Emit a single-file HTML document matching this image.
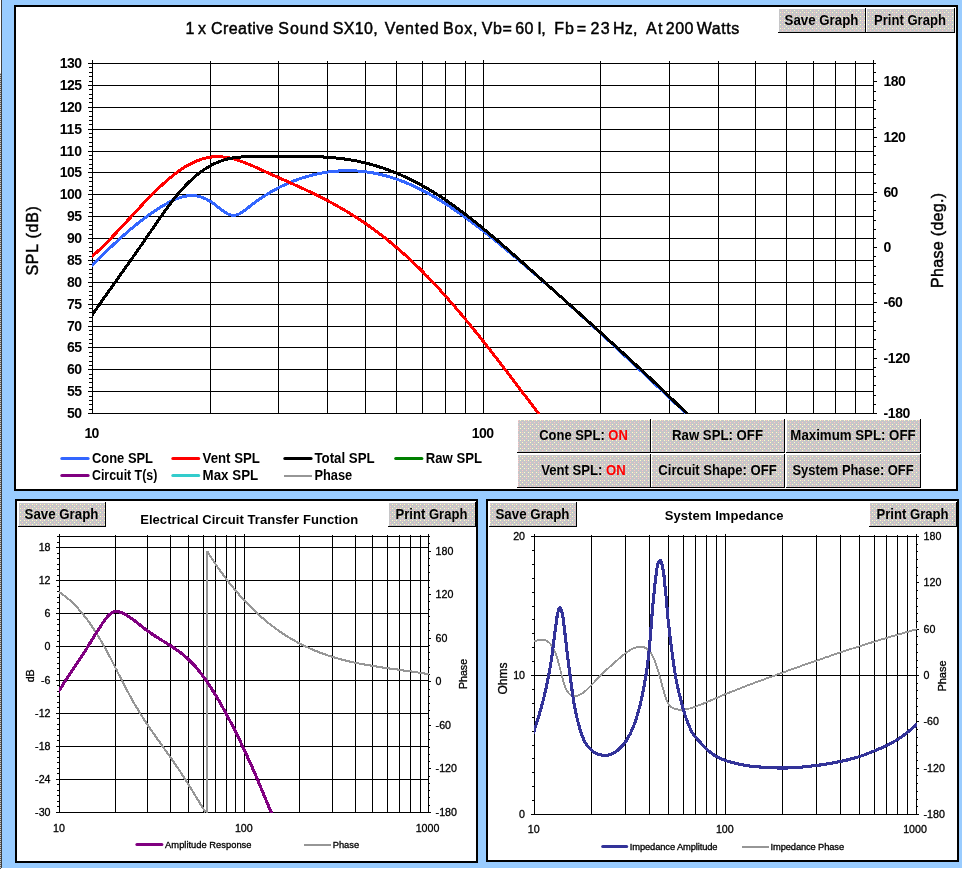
<!DOCTYPE html>
<html lang="en">
<head>
<meta charset="utf-8">
<title>1 x Creative Sound SX10, Vented Box - SPL, Transfer Function and Impedance</title>
<style>
html,body{margin:0;padding:0;}
body{width:963px;height:869px;position:relative;overflow:hidden;background:#99ccff;font-family:"Liberation Sans",Arial,sans-serif;}
svg.gfx{position:absolute;left:0;top:0;display:block;}
svg.gfx text{white-space:pre;}
button{position:absolute;box-sizing:border-box;margin:0;padding:0;border:0;border-radius:0;outline:0;-webkit-appearance:none;appearance:none;background:transparent;color:#000;
 font:700 14px/16px "Liberation Sans",Arial,sans-serif;text-align:center;white-space:nowrap;cursor:default;overflow:visible;}
button span{position:absolute;left:-20px;right:-19px;top:50%;margin-top:-9px;height:16px;display:block;transform-origin:50% 50%;}
button b{color:#ff0000;font-weight:700;}
</style>
</head>
<body>
<svg class="gfx" width="963" height="869" viewBox="0 0 963 869" font-family="'Liberation Sans', Arial, sans-serif">
<defs>
<pattern id="dither" width="8" height="8" patternUnits="userSpaceOnUse">
<rect width="8" height="8" fill="#c6c6c8"/>
<g fill="#ffffc4"><rect x="0" y="0" width="1" height="1"/><rect x="4" y="0" width="1" height="1"/><rect x="2" y="2" width="1" height="1"/><rect x="0" y="4" width="1" height="1"/><rect x="4" y="4" width="1" height="1"/></g>
<g fill="#ffc6c6"><rect x="2" y="0" width="1" height="1"/><rect x="6" y="2" width="1" height="1"/><rect x="6" y="4" width="1" height="1"/><rect x="2" y="6" width="1" height="1"/><rect x="6" y="6" width="1" height="1"/></g>
</pattern>
<pattern id="strip" width="1" height="2" patternUnits="userSpaceOnUse"><rect width="1" height="1" fill="#5a5a5a"/><rect y="1" width="1" height="1" fill="#c8c8c8"/></pattern>
<clipPath id="clipA"><rect x="92" y="63" width="782" height="351"/></clipPath>
<clipPath id="clipB"><rect x="59" y="536" width="370" height="277"/></clipPath>
<clipPath id="clipC"><rect x="534" y="536" width="383" height="279"/></clipPath>
</defs>
<g shape-rendering="crispEdges">
<rect x="0" y="0" width="1" height="73" fill="#ffffff"/>
<rect x="0" y="73" width="1" height="796" fill="url(#strip)"/>
<rect x="1" y="0" width="1" height="869" fill="#404040"/>
<rect x="1" y="868" width="962" height="1" fill="#ffffff"/>
<rect x="962" y="0" width="1" height="869" fill="#ffffff"/>
<rect x="14" y="5" width="944" height="486" fill="#000"/>
<rect x="16" y="7" width="940" height="482" fill="#fff"/>
<rect x="15" y="499" width="463" height="364" fill="#000"/>
<rect x="17" y="501" width="459" height="360" fill="#fff"/>
<rect x="486" y="499" width="473" height="363" fill="#000"/>
<rect x="488" y="501" width="469" height="359" fill="#fff"/>
<rect x="779" y="9" width="86" height="23" fill="url(#dither)"/>
<rect x="778" y="32" width="88" height="1" fill="#000"/>
<rect x="865" y="8" width="1" height="25" fill="#000"/>
<rect x="867" y="9" width="87" height="23" fill="url(#dither)"/>
<rect x="866" y="32" width="89" height="1" fill="#000"/>
<rect x="954" y="8" width="1" height="25" fill="#000"/>
<rect x="518" y="420" width="132" height="32" fill="url(#dither)"/>
<rect x="517" y="452" width="134" height="1" fill="#000"/>
<rect x="650" y="419" width="1" height="34" fill="#000"/>
<rect x="652" y="420" width="132" height="32" fill="url(#dither)"/>
<rect x="651" y="452" width="134" height="1" fill="#000"/>
<rect x="784" y="419" width="1" height="34" fill="#000"/>
<rect x="787" y="420" width="133" height="32" fill="url(#dither)"/>
<rect x="786" y="452" width="135" height="1" fill="#000"/>
<rect x="920" y="419" width="1" height="34" fill="#000"/>
<rect x="518" y="455" width="132" height="32" fill="url(#dither)"/>
<rect x="517" y="487" width="134" height="1" fill="#000"/>
<rect x="650" y="454" width="1" height="34" fill="#000"/>
<rect x="652" y="455" width="132" height="32" fill="url(#dither)"/>
<rect x="651" y="487" width="134" height="1" fill="#000"/>
<rect x="784" y="454" width="1" height="34" fill="#000"/>
<rect x="787" y="455" width="133" height="32" fill="url(#dither)"/>
<rect x="786" y="487" width="135" height="1" fill="#000"/>
<rect x="920" y="454" width="1" height="34" fill="#000"/>
<rect x="19" y="503" width="86" height="23" fill="url(#dither)"/>
<rect x="18" y="526" width="88" height="1" fill="#000"/>
<rect x="105" y="502" width="1" height="25" fill="#000"/>
<rect x="389" y="503" width="86" height="23" fill="url(#dither)"/>
<rect x="388" y="526" width="88" height="1" fill="#000"/>
<rect x="475" y="502" width="1" height="25" fill="#000"/>
<rect x="490" y="503" width="86" height="23" fill="url(#dither)"/>
<rect x="489" y="526" width="88" height="1" fill="#000"/>
<rect x="576" y="502" width="1" height="25" fill="#000"/>
<rect x="870" y="503" width="86" height="23" fill="url(#dither)"/>
<rect x="869" y="526" width="88" height="1" fill="#000"/>
<rect x="956" y="502" width="1" height="25" fill="#000"/>
<rect x="88" y="413" width="786" height="1" fill="#000"/>
<rect x="89" y="409" width="4" height="1" fill="#000"/>
<rect x="89" y="404" width="4" height="1" fill="#000"/>
<rect x="89" y="400" width="4" height="1" fill="#000"/>
<rect x="89" y="396" width="4" height="1" fill="#000"/>
<rect x="88" y="391" width="786" height="1" fill="#000"/>
<rect x="89" y="387" width="4" height="1" fill="#000"/>
<rect x="89" y="382" width="4" height="1" fill="#000"/>
<rect x="89" y="378" width="4" height="1" fill="#000"/>
<rect x="89" y="374" width="4" height="1" fill="#000"/>
<rect x="88" y="369" width="786" height="1" fill="#000"/>
<rect x="89" y="365" width="4" height="1" fill="#000"/>
<rect x="89" y="361" width="4" height="1" fill="#000"/>
<rect x="89" y="356" width="4" height="1" fill="#000"/>
<rect x="89" y="352" width="4" height="1" fill="#000"/>
<rect x="88" y="347" width="786" height="1" fill="#000"/>
<rect x="89" y="343" width="4" height="1" fill="#000"/>
<rect x="89" y="339" width="4" height="1" fill="#000"/>
<rect x="89" y="334" width="4" height="1" fill="#000"/>
<rect x="89" y="330" width="4" height="1" fill="#000"/>
<rect x="88" y="326" width="786" height="1" fill="#000"/>
<rect x="89" y="321" width="4" height="1" fill="#000"/>
<rect x="89" y="317" width="4" height="1" fill="#000"/>
<rect x="89" y="312" width="4" height="1" fill="#000"/>
<rect x="89" y="308" width="4" height="1" fill="#000"/>
<rect x="88" y="304" width="786" height="1" fill="#000"/>
<rect x="89" y="299" width="4" height="1" fill="#000"/>
<rect x="89" y="295" width="4" height="1" fill="#000"/>
<rect x="89" y="291" width="4" height="1" fill="#000"/>
<rect x="89" y="286" width="4" height="1" fill="#000"/>
<rect x="88" y="282" width="786" height="1" fill="#000"/>
<rect x="89" y="277" width="4" height="1" fill="#000"/>
<rect x="89" y="273" width="4" height="1" fill="#000"/>
<rect x="89" y="269" width="4" height="1" fill="#000"/>
<rect x="89" y="264" width="4" height="1" fill="#000"/>
<rect x="88" y="260" width="786" height="1" fill="#000"/>
<rect x="89" y="256" width="4" height="1" fill="#000"/>
<rect x="89" y="251" width="4" height="1" fill="#000"/>
<rect x="89" y="247" width="4" height="1" fill="#000"/>
<rect x="89" y="242" width="4" height="1" fill="#000"/>
<rect x="88" y="238" width="786" height="1" fill="#000"/>
<rect x="89" y="234" width="4" height="1" fill="#000"/>
<rect x="89" y="229" width="4" height="1" fill="#000"/>
<rect x="89" y="225" width="4" height="1" fill="#000"/>
<rect x="89" y="221" width="4" height="1" fill="#000"/>
<rect x="88" y="216" width="786" height="1" fill="#000"/>
<rect x="89" y="212" width="4" height="1" fill="#000"/>
<rect x="89" y="207" width="4" height="1" fill="#000"/>
<rect x="89" y="203" width="4" height="1" fill="#000"/>
<rect x="89" y="199" width="4" height="1" fill="#000"/>
<rect x="88" y="194" width="786" height="1" fill="#000"/>
<rect x="89" y="190" width="4" height="1" fill="#000"/>
<rect x="89" y="186" width="4" height="1" fill="#000"/>
<rect x="89" y="181" width="4" height="1" fill="#000"/>
<rect x="89" y="177" width="4" height="1" fill="#000"/>
<rect x="88" y="172" width="786" height="1" fill="#000"/>
<rect x="89" y="168" width="4" height="1" fill="#000"/>
<rect x="89" y="164" width="4" height="1" fill="#000"/>
<rect x="89" y="159" width="4" height="1" fill="#000"/>
<rect x="89" y="155" width="4" height="1" fill="#000"/>
<rect x="88" y="151" width="786" height="1" fill="#000"/>
<rect x="89" y="146" width="4" height="1" fill="#000"/>
<rect x="89" y="142" width="4" height="1" fill="#000"/>
<rect x="89" y="137" width="4" height="1" fill="#000"/>
<rect x="89" y="133" width="4" height="1" fill="#000"/>
<rect x="88" y="129" width="786" height="1" fill="#000"/>
<rect x="89" y="124" width="4" height="1" fill="#000"/>
<rect x="89" y="120" width="4" height="1" fill="#000"/>
<rect x="89" y="116" width="4" height="1" fill="#000"/>
<rect x="89" y="111" width="4" height="1" fill="#000"/>
<rect x="88" y="107" width="786" height="1" fill="#000"/>
<rect x="89" y="102" width="4" height="1" fill="#000"/>
<rect x="89" y="98" width="4" height="1" fill="#000"/>
<rect x="89" y="94" width="4" height="1" fill="#000"/>
<rect x="89" y="89" width="4" height="1" fill="#000"/>
<rect x="88" y="85" width="786" height="1" fill="#000"/>
<rect x="89" y="81" width="4" height="1" fill="#000"/>
<rect x="89" y="76" width="4" height="1" fill="#000"/>
<rect x="89" y="72" width="4" height="1" fill="#000"/>
<rect x="89" y="67" width="4" height="1" fill="#000"/>
<rect x="88" y="63" width="786" height="1" fill="#000"/>
<rect x="92" y="60" width="1" height="354" fill="#000"/>
<rect x="210" y="61" width="1" height="353" fill="#000"/>
<rect x="278" y="61" width="1" height="353" fill="#000"/>
<rect x="327" y="61" width="1" height="353" fill="#000"/>
<rect x="365" y="61" width="1" height="353" fill="#000"/>
<rect x="396" y="61" width="1" height="353" fill="#000"/>
<rect x="422" y="61" width="1" height="353" fill="#000"/>
<rect x="445" y="61" width="1" height="353" fill="#000"/>
<rect x="465" y="61" width="1" height="353" fill="#000"/>
<rect x="483" y="60" width="1" height="354" fill="#000"/>
<rect x="600" y="61" width="1" height="353" fill="#000"/>
<rect x="669" y="61" width="1" height="353" fill="#000"/>
<rect x="718" y="61" width="1" height="353" fill="#000"/>
<rect x="755" y="61" width="1" height="353" fill="#000"/>
<rect x="786" y="61" width="1" height="353" fill="#000"/>
<rect x="813" y="61" width="1" height="353" fill="#000"/>
<rect x="835" y="61" width="1" height="353" fill="#000"/>
<rect x="855" y="61" width="1" height="353" fill="#000"/>
<rect x="873" y="60" width="1" height="354" fill="#000"/>
<rect x="873" y="413" width="4" height="1" fill="#000"/>
<rect x="873" y="404" width="3" height="1" fill="#000"/>
<rect x="873" y="395" width="3" height="1" fill="#000"/>
<rect x="873" y="385" width="3" height="1" fill="#000"/>
<rect x="873" y="376" width="3" height="1" fill="#000"/>
<rect x="873" y="367" width="3" height="1" fill="#000"/>
<rect x="873" y="358" width="4" height="1" fill="#000"/>
<rect x="873" y="349" width="3" height="1" fill="#000"/>
<rect x="873" y="339" width="3" height="1" fill="#000"/>
<rect x="873" y="330" width="3" height="1" fill="#000"/>
<rect x="873" y="321" width="3" height="1" fill="#000"/>
<rect x="873" y="312" width="3" height="1" fill="#000"/>
<rect x="873" y="302" width="4" height="1" fill="#000"/>
<rect x="873" y="293" width="3" height="1" fill="#000"/>
<rect x="873" y="284" width="3" height="1" fill="#000"/>
<rect x="873" y="275" width="3" height="1" fill="#000"/>
<rect x="873" y="266" width="3" height="1" fill="#000"/>
<rect x="873" y="256" width="3" height="1" fill="#000"/>
<rect x="873" y="247" width="4" height="1" fill="#000"/>
<rect x="873" y="238" width="3" height="1" fill="#000"/>
<rect x="873" y="229" width="3" height="1" fill="#000"/>
<rect x="873" y="220" width="3" height="1" fill="#000"/>
<rect x="873" y="210" width="3" height="1" fill="#000"/>
<rect x="873" y="201" width="3" height="1" fill="#000"/>
<rect x="873" y="192" width="4" height="1" fill="#000"/>
<rect x="873" y="183" width="3" height="1" fill="#000"/>
<rect x="873" y="174" width="3" height="1" fill="#000"/>
<rect x="873" y="164" width="3" height="1" fill="#000"/>
<rect x="873" y="155" width="3" height="1" fill="#000"/>
<rect x="873" y="146" width="3" height="1" fill="#000"/>
<rect x="873" y="137" width="4" height="1" fill="#000"/>
<rect x="873" y="127" width="3" height="1" fill="#000"/>
<rect x="873" y="118" width="3" height="1" fill="#000"/>
<rect x="873" y="109" width="3" height="1" fill="#000"/>
<rect x="873" y="100" width="3" height="1" fill="#000"/>
<rect x="873" y="91" width="3" height="1" fill="#000"/>
<rect x="873" y="81" width="4" height="1" fill="#000"/>
<rect x="873" y="72" width="3" height="1" fill="#000"/>
<rect x="873" y="63" width="3" height="1" fill="#000"/>
<rect x="56" y="812" width="373" height="1" fill="#000"/>
<rect x="57" y="806" width="3" height="1" fill="#000"/>
<rect x="57" y="801" width="3" height="1" fill="#000"/>
<rect x="57" y="795" width="3" height="1" fill="#000"/>
<rect x="57" y="790" width="3" height="1" fill="#000"/>
<rect x="57" y="784" width="3" height="1" fill="#000"/>
<rect x="56" y="779" width="373" height="1" fill="#000"/>
<rect x="57" y="773" width="3" height="1" fill="#000"/>
<rect x="57" y="768" width="3" height="1" fill="#000"/>
<rect x="57" y="762" width="3" height="1" fill="#000"/>
<rect x="57" y="757" width="3" height="1" fill="#000"/>
<rect x="57" y="751" width="3" height="1" fill="#000"/>
<rect x="56" y="746" width="373" height="1" fill="#000"/>
<rect x="57" y="740" width="3" height="1" fill="#000"/>
<rect x="57" y="735" width="3" height="1" fill="#000"/>
<rect x="57" y="729" width="3" height="1" fill="#000"/>
<rect x="57" y="724" width="3" height="1" fill="#000"/>
<rect x="57" y="718" width="3" height="1" fill="#000"/>
<rect x="56" y="713" width="373" height="1" fill="#000"/>
<rect x="57" y="707" width="3" height="1" fill="#000"/>
<rect x="57" y="702" width="3" height="1" fill="#000"/>
<rect x="57" y="696" width="3" height="1" fill="#000"/>
<rect x="57" y="691" width="3" height="1" fill="#000"/>
<rect x="57" y="685" width="3" height="1" fill="#000"/>
<rect x="56" y="680" width="373" height="1" fill="#000"/>
<rect x="57" y="674" width="3" height="1" fill="#000"/>
<rect x="57" y="668" width="3" height="1" fill="#000"/>
<rect x="57" y="663" width="3" height="1" fill="#000"/>
<rect x="57" y="657" width="3" height="1" fill="#000"/>
<rect x="57" y="652" width="3" height="1" fill="#000"/>
<rect x="56" y="646" width="373" height="1" fill="#000"/>
<rect x="57" y="641" width="3" height="1" fill="#000"/>
<rect x="57" y="635" width="3" height="1" fill="#000"/>
<rect x="57" y="630" width="3" height="1" fill="#000"/>
<rect x="57" y="624" width="3" height="1" fill="#000"/>
<rect x="57" y="619" width="3" height="1" fill="#000"/>
<rect x="56" y="613" width="373" height="1" fill="#000"/>
<rect x="57" y="608" width="3" height="1" fill="#000"/>
<rect x="57" y="602" width="3" height="1" fill="#000"/>
<rect x="57" y="597" width="3" height="1" fill="#000"/>
<rect x="57" y="591" width="3" height="1" fill="#000"/>
<rect x="57" y="586" width="3" height="1" fill="#000"/>
<rect x="56" y="580" width="373" height="1" fill="#000"/>
<rect x="57" y="575" width="3" height="1" fill="#000"/>
<rect x="57" y="569" width="3" height="1" fill="#000"/>
<rect x="57" y="564" width="3" height="1" fill="#000"/>
<rect x="57" y="558" width="3" height="1" fill="#000"/>
<rect x="57" y="553" width="3" height="1" fill="#000"/>
<rect x="56" y="547" width="373" height="1" fill="#000"/>
<rect x="57" y="542" width="3" height="1" fill="#000"/>
<rect x="57" y="536" width="372" height="1" fill="#000"/>
<rect x="59" y="534" width="1" height="279" fill="#000"/>
<rect x="115" y="535" width="1" height="278" fill="#000"/>
<rect x="147" y="535" width="1" height="278" fill="#000"/>
<rect x="170" y="535" width="1" height="278" fill="#000"/>
<rect x="188" y="535" width="1" height="278" fill="#000"/>
<rect x="203" y="535" width="1" height="278" fill="#000"/>
<rect x="215" y="535" width="1" height="278" fill="#000"/>
<rect x="226" y="535" width="1" height="278" fill="#000"/>
<rect x="235" y="535" width="1" height="278" fill="#000"/>
<rect x="244" y="534" width="1" height="279" fill="#000"/>
<rect x="299" y="535" width="1" height="278" fill="#000"/>
<rect x="332" y="535" width="1" height="278" fill="#000"/>
<rect x="355" y="535" width="1" height="278" fill="#000"/>
<rect x="372" y="535" width="1" height="278" fill="#000"/>
<rect x="387" y="535" width="1" height="278" fill="#000"/>
<rect x="399" y="535" width="1" height="278" fill="#000"/>
<rect x="410" y="535" width="1" height="278" fill="#000"/>
<rect x="420" y="535" width="1" height="278" fill="#000"/>
<rect x="428" y="534" width="1" height="279" fill="#000"/>
<rect x="428" y="812" width="3" height="1" fill="#000"/>
<rect x="428" y="805" width="2" height="1" fill="#000"/>
<rect x="428" y="797" width="2" height="1" fill="#000"/>
<rect x="428" y="790" width="2" height="1" fill="#000"/>
<rect x="428" y="783" width="2" height="1" fill="#000"/>
<rect x="428" y="776" width="2" height="1" fill="#000"/>
<rect x="428" y="768" width="3" height="1" fill="#000"/>
<rect x="428" y="761" width="2" height="1" fill="#000"/>
<rect x="428" y="754" width="2" height="1" fill="#000"/>
<rect x="428" y="747" width="2" height="1" fill="#000"/>
<rect x="428" y="739" width="2" height="1" fill="#000"/>
<rect x="428" y="732" width="2" height="1" fill="#000"/>
<rect x="428" y="725" width="3" height="1" fill="#000"/>
<rect x="428" y="718" width="2" height="1" fill="#000"/>
<rect x="428" y="710" width="2" height="1" fill="#000"/>
<rect x="428" y="703" width="2" height="1" fill="#000"/>
<rect x="428" y="696" width="2" height="1" fill="#000"/>
<rect x="428" y="689" width="2" height="1" fill="#000"/>
<rect x="428" y="681" width="3" height="1" fill="#000"/>
<rect x="428" y="674" width="2" height="1" fill="#000"/>
<rect x="428" y="667" width="2" height="1" fill="#000"/>
<rect x="428" y="659" width="2" height="1" fill="#000"/>
<rect x="428" y="652" width="2" height="1" fill="#000"/>
<rect x="428" y="645" width="2" height="1" fill="#000"/>
<rect x="428" y="638" width="3" height="1" fill="#000"/>
<rect x="428" y="630" width="2" height="1" fill="#000"/>
<rect x="428" y="623" width="2" height="1" fill="#000"/>
<rect x="428" y="616" width="2" height="1" fill="#000"/>
<rect x="428" y="609" width="2" height="1" fill="#000"/>
<rect x="428" y="601" width="2" height="1" fill="#000"/>
<rect x="428" y="594" width="3" height="1" fill="#000"/>
<rect x="428" y="587" width="2" height="1" fill="#000"/>
<rect x="428" y="580" width="2" height="1" fill="#000"/>
<rect x="428" y="572" width="2" height="1" fill="#000"/>
<rect x="428" y="565" width="2" height="1" fill="#000"/>
<rect x="428" y="558" width="2" height="1" fill="#000"/>
<rect x="428" y="551" width="3" height="1" fill="#000"/>
<rect x="428" y="543" width="2" height="1" fill="#000"/>
<rect x="428" y="536" width="2" height="1" fill="#000"/>
<rect x="531" y="814" width="386" height="1" fill="#000"/>
<rect x="532" y="800" width="3" height="1" fill="#000"/>
<rect x="532" y="786" width="3" height="1" fill="#000"/>
<rect x="532" y="772" width="3" height="1" fill="#000"/>
<rect x="532" y="758" width="3" height="1" fill="#000"/>
<rect x="532" y="745" width="3" height="1" fill="#000"/>
<rect x="532" y="731" width="3" height="1" fill="#000"/>
<rect x="532" y="717" width="3" height="1" fill="#000"/>
<rect x="532" y="703" width="3" height="1" fill="#000"/>
<rect x="532" y="689" width="3" height="1" fill="#000"/>
<rect x="531" y="675" width="386" height="1" fill="#000"/>
<rect x="532" y="661" width="3" height="1" fill="#000"/>
<rect x="532" y="647" width="3" height="1" fill="#000"/>
<rect x="532" y="633" width="3" height="1" fill="#000"/>
<rect x="532" y="619" width="3" height="1" fill="#000"/>
<rect x="532" y="606" width="3" height="1" fill="#000"/>
<rect x="532" y="592" width="3" height="1" fill="#000"/>
<rect x="532" y="578" width="3" height="1" fill="#000"/>
<rect x="532" y="564" width="3" height="1" fill="#000"/>
<rect x="532" y="550" width="3" height="1" fill="#000"/>
<rect x="531" y="536" width="386" height="1" fill="#000"/>
<rect x="534" y="534" width="1" height="281" fill="#000"/>
<rect x="591" y="535" width="1" height="280" fill="#000"/>
<rect x="625" y="535" width="1" height="280" fill="#000"/>
<rect x="649" y="535" width="1" height="280" fill="#000"/>
<rect x="668" y="535" width="1" height="280" fill="#000"/>
<rect x="683" y="535" width="1" height="280" fill="#000"/>
<rect x="695" y="535" width="1" height="280" fill="#000"/>
<rect x="706" y="535" width="1" height="280" fill="#000"/>
<rect x="716" y="535" width="1" height="280" fill="#000"/>
<rect x="725" y="534" width="1" height="281" fill="#000"/>
<rect x="782" y="535" width="1" height="280" fill="#000"/>
<rect x="816" y="535" width="1" height="280" fill="#000"/>
<rect x="840" y="535" width="1" height="280" fill="#000"/>
<rect x="859" y="535" width="1" height="280" fill="#000"/>
<rect x="874" y="535" width="1" height="280" fill="#000"/>
<rect x="886" y="535" width="1" height="280" fill="#000"/>
<rect x="897" y="535" width="1" height="280" fill="#000"/>
<rect x="907" y="535" width="1" height="280" fill="#000"/>
<rect x="916" y="534" width="1" height="281" fill="#000"/>
<rect x="916" y="814" width="3" height="1" fill="#000"/>
<rect x="916" y="806" width="2" height="1" fill="#000"/>
<rect x="916" y="799" width="2" height="1" fill="#000"/>
<rect x="916" y="791" width="2" height="1" fill="#000"/>
<rect x="916" y="783" width="2" height="1" fill="#000"/>
<rect x="916" y="775" width="2" height="1" fill="#000"/>
<rect x="916" y="768" width="3" height="1" fill="#000"/>
<rect x="916" y="760" width="2" height="1" fill="#000"/>
<rect x="916" y="752" width="2" height="1" fill="#000"/>
<rect x="916" y="745" width="2" height="1" fill="#000"/>
<rect x="916" y="737" width="2" height="1" fill="#000"/>
<rect x="916" y="729" width="2" height="1" fill="#000"/>
<rect x="916" y="721" width="3" height="1" fill="#000"/>
<rect x="916" y="714" width="2" height="1" fill="#000"/>
<rect x="916" y="706" width="2" height="1" fill="#000"/>
<rect x="916" y="698" width="2" height="1" fill="#000"/>
<rect x="916" y="690" width="2" height="1" fill="#000"/>
<rect x="916" y="683" width="2" height="1" fill="#000"/>
<rect x="916" y="675" width="3" height="1" fill="#000"/>
<rect x="916" y="667" width="2" height="1" fill="#000"/>
<rect x="916" y="660" width="2" height="1" fill="#000"/>
<rect x="916" y="652" width="2" height="1" fill="#000"/>
<rect x="916" y="644" width="2" height="1" fill="#000"/>
<rect x="916" y="636" width="2" height="1" fill="#000"/>
<rect x="916" y="629" width="3" height="1" fill="#000"/>
<rect x="916" y="621" width="2" height="1" fill="#000"/>
<rect x="916" y="613" width="2" height="1" fill="#000"/>
<rect x="916" y="606" width="2" height="1" fill="#000"/>
<rect x="916" y="598" width="2" height="1" fill="#000"/>
<rect x="916" y="590" width="2" height="1" fill="#000"/>
<rect x="916" y="582" width="3" height="1" fill="#000"/>
<rect x="916" y="575" width="2" height="1" fill="#000"/>
<rect x="916" y="567" width="2" height="1" fill="#000"/>
<rect x="916" y="559" width="2" height="1" fill="#000"/>
<rect x="916" y="551" width="2" height="1" fill="#000"/>
<rect x="916" y="544" width="2" height="1" fill="#000"/>
<rect x="916" y="536" width="3" height="1" fill="#000"/>
</g>
<g shape-rendering="crispEdges">
<path d="M90.8,269.0 L91.8,267.9 L92.9,266.9 L93.9,265.8 L95.0,264.7 L96.0,263.7 L97.1,262.6 L98.2,261.5 L99.2,260.5 L100.3,259.4 L101.4,258.4 L102.4,257.3 L103.5,256.2 L104.6,255.2 L105.6,254.1 L106.7,253.1 L107.8,252.0 L108.9,251.0 L110.0,250.0 L111.0,248.9 L112.1,247.9 L113.2,246.9 L114.3,245.8 L115.4,244.8 L116.5,243.8 L117.6,242.8 L118.7,241.8 L119.8,240.7 L120.9,239.7 L122.0,238.7 L123.2,237.7 L124.3,236.7 L125.4,235.7 L126.5,234.8 L127.6,233.8 L128.8,232.8 L129.9,231.8 L131.1,230.8 L132.2,229.9 L133.4,228.9 L134.5,228.0 L135.7,227.0 L136.8,226.1 L138.0,225.1 L139.2,224.2 L140.3,223.3 L141.5,222.3 L142.7,221.4 L143.9,220.5 L145.1,219.6 L146.3,218.7 L147.5,217.8 L148.7,217.0 L149.9,216.1 L151.1,215.2 L152.4,214.4 L153.6,213.5 L154.8,212.7 L156.1,211.9 L157.3,211.0 L158.6,210.2 L159.8,209.4 L161.1,208.6 L162.4,207.9 L163.6,207.1 L164.9,206.3 L166.2,205.6 L167.5,204.9 L168.8,204.2 L170.1,203.5 L171.5,202.8 L172.8,202.1 L174.1,201.5 L175.5,200.9 L176.8,200.3 L178.2,199.8 L179.6,199.3 L180.9,198.8 L182.3,198.4 L183.7,198.0 L185.2,197.7 L186.6,197.5 L188.0,197.3 L189.4,197.1 L190.9,197.0 L192.3,197.0 L193.7,197.1 L195.1,197.2 L196.6,197.5 L198.0,197.7 L199.3,198.1 L200.7,198.5 L202.1,199.0 L203.4,199.5 L204.7,200.1 L206.1,200.7 L207.3,201.4 L208.6,202.1 L209.8,202.9 L211.1,203.7 L212.3,204.5 L213.4,205.4 L214.6,206.3 L215.8,207.2 L217.0,208.2 L218.2,209.1 L219.3,210.0 L220.6,211.0 L221.8,211.9 L223.1,212.8 L224.4,213.6 L225.7,214.4 L227.1,215.2 L228.6,215.8 L230.2,216.4 L231.8,216.7 L233.5,216.9 L235.2,216.8 L236.9,216.4 L238.5,215.9 L240.0,215.2 L241.4,214.5 L242.7,213.6 L244.0,212.8 L245.3,211.8 L246.5,210.9 L247.7,210.0 L248.9,209.0 L250.0,208.1 L251.2,207.2 L252.4,206.3 L253.6,205.3 L254.8,204.4 L256.0,203.6 L257.2,202.7 L258.4,201.8 L259.6,200.9 L260.8,200.1 L262.0,199.3 L263.3,198.4 L264.5,197.6 L265.8,196.8 L267.1,196.0 L268.3,195.2 L269.6,194.5 L270.9,193.7 L272.2,192.9 L273.5,192.2 L274.8,191.5 L276.1,190.8 L277.4,190.1 L278.7,189.4 L280.0,188.7 L281.4,188.0 L282.7,187.4 L284.1,186.7 L285.4,186.1 L286.8,185.5 L288.1,184.9 L289.5,184.3 L290.9,183.7 L292.2,183.2 L293.6,182.6 L295.0,182.1 L296.4,181.6 L297.8,181.1 L299.2,180.6 L300.6,180.1 L302.0,179.6 L303.5,179.2 L304.9,178.7 L306.3,178.3 L307.7,177.9 L309.2,177.5 L310.6,177.1 L312.1,176.7 L313.5,176.3 L315.0,176.0 L316.4,175.7 L317.9,175.3 L319.3,175.0 L320.8,174.8 L322.2,174.5 L323.7,174.2 L325.2,174.0 L326.7,173.8 L328.1,173.5 L329.6,173.3 L331.1,173.2 L332.6,173.0 L334.0,172.8 L335.5,172.7 L337.0,172.6 L338.5,172.5 L340.0,172.4 L341.5,172.3 L343.0,172.3 L344.4,172.2 L345.9,172.2 L347.4,172.2 L348.9,172.2 L350.4,172.2 L351.9,172.2 L353.4,172.3 L354.9,172.4 L356.3,172.4 L357.8,172.5 L359.3,172.7 L360.8,172.8 L362.3,172.9 L363.8,173.1 L365.2,173.3 L366.7,173.5 L368.2,173.7 L369.7,173.9 L371.1,174.1 L372.6,174.4 L374.1,174.7 L375.5,174.9 L377.0,175.2 L378.4,175.6 L379.9,175.9 L381.3,176.2 L382.8,176.6 L384.2,176.9 L385.7,177.3 L387.1,177.7 L388.5,178.1 L390.0,178.6 L391.4,179.0 L392.8,179.5 L394.2,179.9 L395.6,180.4 L397.0,180.9 L398.4,181.4 L399.8,181.9 L401.2,182.4 L402.6,183.0 L404.0,183.5 L405.4,184.1 L406.8,184.7 L408.2,185.2 L409.5,185.8 L410.9,186.4 L412.2,187.1 L413.6,187.7 L415.0,188.3 L416.3,189.0 L417.6,189.6 L419.0,190.3 L420.3,191.0 L421.6,191.6 L423.0,192.3 L424.3,193.0 L425.6,193.7 L426.9,194.5 L428.2,195.2 L429.5,195.9 L430.8,196.6 L432.1,197.4 L433.4,198.1 L434.7,198.9 L436.0,199.7 L437.3,200.4 L438.6,201.2 L439.8,202.0 L441.1,202.8 L442.4,203.6 L443.7,204.4 L444.9,205.2 L446.2,206.0 L447.4,206.8 L448.7,207.6 L449.9,208.5 L451.2,209.3 L452.4,210.1 L453.7,211.0 L454.9,211.8 L456.1,212.7 L457.4,213.5 L458.6,214.4 L459.8,215.3 L461.0,216.1 L462.3,217.0 L463.5,217.9 L464.7,218.8 L465.9,219.6 L467.1,220.5 L468.3,221.4 L469.5,222.3 L470.7,223.2 L471.9,224.1 L473.1,225.0 L474.3,225.9 L475.5,226.8 L476.7,227.7 L477.9,228.6 L479.1,229.6 L480.3,230.5 L481.5,231.4 L482.6,232.3 L483.8,233.3 L485.0,234.2 L486.2,235.1 L487.3,236.1 L488.5,237.0 L489.7,237.9 L490.9,238.9 L492.0,239.8 L493.2,240.8 L494.4,241.7 L495.5,242.7 L496.7,243.6 L497.9,244.6 L499.0,245.5 L500.2,246.5 L501.3,247.4 L502.5,248.4 L503.6,249.3 L504.8,250.3 L506.0,251.3 L507.1,252.2 L508.3,253.2 L509.4,254.2 L510.6,255.1 L511.7,256.1 L512.9,257.1 L514.0,258.0 L515.2,259.0 L516.3,260.0 L517.5,260.9 L518.6,261.9 L519.7,262.9 L520.9,263.9 L522.0,264.8 L523.2,265.8 L524.3,266.8 L525.5,267.8 L526.6,268.8 L527.7,269.7 L528.9,270.7 L530.0,271.7 L531.1,272.7 L532.3,273.7 L533.4,274.7 L534.5,275.6 L535.7,276.6 L536.8,277.6 L537.9,278.6 L539.1,279.6 L540.2,280.6 L541.3,281.6 L542.5,282.6 L543.6,283.6 L544.7,284.6 L545.9,285.6 L547.0,286.5 L548.1,287.5 L549.2,288.5 L550.4,289.5 L551.5,290.5 L552.6,291.5 L553.7,292.5 L554.8,293.5 L556.0,294.5 L557.1,295.5 L558.2,296.5 L559.3,297.5 L560.5,298.5 L561.6,299.5 L562.7,300.6 L563.8,301.6 L564.9,302.6 L566.0,303.6 L567.2,304.6 L568.3,305.6 L569.4,306.6 L570.5,307.6 L571.6,308.6 L572.7,309.6 L573.8,310.6 L575.0,311.6 L576.1,312.7 L577.2,313.7 L578.3,314.7 L579.4,315.7 L580.5,316.7 L581.6,317.7 L582.7,318.7 L583.8,319.8 L585.0,320.8 L586.1,321.8 L587.2,322.8 L588.3,323.8 L589.4,324.8 L590.5,325.9 L591.6,326.9 L592.7,327.9 L593.8,328.9 L594.9,329.9 L596.0,330.9 L597.1,332.0 L598.2,333.0 L599.3,334.0 L600.4,335.0 L601.5,336.1 L602.6,337.1 L603.7,338.1 L604.8,339.1 L605.9,340.1 L607.0,341.2 L608.2,342.2 L609.3,343.2 L610.4,344.2 L611.5,345.3 L612.6,346.3 L613.7,347.3 L614.8,348.3 L615.9,349.4 L617.0,350.4 L618.0,351.4 L619.1,352.5 L620.2,353.5 L621.3,354.5 L622.4,355.5 L623.5,356.6 L624.6,357.6 L625.7,358.6 L626.8,359.6 L627.9,360.7 L629.0,361.7 L630.1,362.7 L631.2,363.8 L632.3,364.8 L633.4,365.8 L634.5,366.9 L635.6,367.9 L636.7,368.9 L637.8,369.9 L638.9,371.0 L640.0,372.0 L641.1,373.0 L642.2,374.1 L643.3,375.1 L644.4,376.1 L645.5,377.2 L646.6,378.2 L647.6,379.2 L648.7,380.3 L649.8,381.3 L650.9,382.3 L652.0,383.4 L653.1,384.4 L654.2,385.4 L655.3,386.5 L656.4,387.5 L657.5,388.5 L658.6,389.6 L659.7,390.6 L660.8,391.6 L661.9,392.7 L663.0,393.7 L664.1,394.7 L665.1,395.8 L666.2,396.8 L667.3,397.8 L668.4,398.9 L669.5,399.9 L670.6,400.9 L671.7,401.9 L672.8,403.0 L673.9,404.0 L675.0,405.0 L676.1,406.1 L677.2,407.1 L678.3,408.1 L679.4,409.2 L680.5,410.2 L681.6,411.2 L682.6,412.3 L683.7,413.3 L684.8,414.3 L685.9,415.4 L687.0,416.4 L688.1,417.4 L689.2,418.5 L690.3,419.5 L691.4,420.5 L692.5,421.6 L693.6,422.6 L694.7,423.6 L695.8,424.7 L696.9,425.7 L698.9,423.5 L697.8,422.5 L696.8,421.4 L695.7,420.4 L694.6,419.4 L693.5,418.3 L692.4,417.3 L691.3,416.3 L690.2,415.3 L689.1,414.2 L688.0,413.2 L686.9,412.2 L685.8,411.1 L684.7,410.1 L683.6,409.1 L682.5,408.0 L681.4,407.0 L680.3,406.0 L679.2,404.9 L678.1,403.9 L677.0,402.9 L676.0,401.8 L674.9,400.8 L673.8,399.8 L672.7,398.7 L671.6,397.7 L670.5,396.7 L669.4,395.6 L668.3,394.6 L667.2,393.6 L666.1,392.5 L665.0,391.5 L663.9,390.5 L662.8,389.4 L661.7,388.4 L660.6,387.4 L659.5,386.3 L658.5,385.3 L657.4,384.3 L656.3,383.2 L655.2,382.2 L654.1,381.2 L653.0,380.1 L651.9,379.1 L650.8,378.1 L649.7,377.0 L648.6,376.0 L647.5,375.0 L646.4,374.0 L645.3,372.9 L644.2,371.9 L643.1,370.9 L642.0,369.8 L640.9,368.8 L639.8,367.8 L638.8,366.7 L637.7,365.7 L636.6,364.7 L635.5,363.6 L634.4,362.6 L633.3,361.6 L632.2,360.6 L631.1,359.5 L630.0,358.5 L628.9,357.5 L627.8,356.4 L626.7,355.4 L625.6,354.4 L624.5,353.3 L623.4,352.3 L622.3,351.3 L621.2,350.3 L620.1,349.2 L619.0,348.2 L617.9,347.2 L616.8,346.2 L615.7,345.1 L614.6,344.1 L613.5,343.1 L612.4,342.0 L611.3,341.0 L610.2,340.0 L609.1,339.0 L608.0,337.9 L606.9,336.9 L605.8,335.9 L604.7,334.9 L603.6,333.9 L602.5,332.8 L601.4,331.8 L600.3,330.8 L599.2,329.8 L598.1,328.7 L596.9,327.7 L595.8,326.7 L594.7,325.7 L593.6,324.7 L592.5,323.6 L591.4,322.6 L590.3,321.6 L589.2,320.6 L588.1,319.6 L587.0,318.6 L585.9,317.5 L584.8,316.5 L583.7,315.5 L582.5,314.5 L581.4,313.5 L580.3,312.5 L579.2,311.5 L578.1,310.4 L577.0,309.4 L575.9,308.4 L574.7,307.4 L573.6,306.4 L572.5,305.4 L571.4,304.4 L570.3,303.4 L569.2,302.4 L568.1,301.3 L566.9,300.3 L565.8,299.3 L564.7,298.3 L563.6,297.3 L562.5,296.3 L561.3,295.3 L560.2,294.3 L559.1,293.3 L558.0,292.3 L556.8,291.3 L555.7,290.3 L554.6,289.3 L553.5,288.3 L552.3,287.3 L551.2,286.3 L550.1,285.3 L549.0,284.3 L547.8,283.3 L546.7,282.3 L545.6,281.3 L544.4,280.3 L543.3,279.3 L542.2,278.3 L541.1,277.3 L539.9,276.4 L538.8,275.4 L537.7,274.4 L536.5,273.4 L535.4,272.4 L534.2,271.4 L533.1,270.4 L532.0,269.4 L530.8,268.5 L529.7,267.5 L528.5,266.5 L527.4,265.5 L526.3,264.5 L525.1,263.5 L524.0,262.6 L522.8,261.6 L521.7,260.6 L520.5,259.6 L519.4,258.7 L518.2,257.7 L517.1,256.7 L516.0,255.7 L514.8,254.8 L513.6,253.8 L512.5,252.8 L511.3,251.9 L510.2,250.9 L509.0,249.9 L507.9,249.0 L506.7,248.0 L505.6,247.0 L504.4,246.1 L503.2,245.1 L502.1,244.2 L500.9,243.2 L499.8,242.2 L498.6,241.3 L497.4,240.3 L496.3,239.4 L495.1,238.4 L493.9,237.5 L492.7,236.5 L491.6,235.6 L490.4,234.7 L489.2,233.7 L488.0,232.8 L486.9,231.8 L485.7,230.9 L484.5,230.0 L483.3,229.0 L482.1,228.1 L480.9,227.2 L479.7,226.3 L478.5,225.4 L477.3,224.4 L476.1,223.5 L474.9,222.6 L473.7,221.7 L472.5,220.8 L471.3,219.9 L470.1,219.0 L468.9,218.1 L467.7,217.2 L466.4,216.3 L465.2,215.4 L464.0,214.6 L462.8,213.7 L461.5,212.8 L460.3,211.9 L459.1,211.1 L457.8,210.2 L456.6,209.4 L455.3,208.5 L454.1,207.7 L452.8,206.8 L451.6,206.0 L450.3,205.1 L449.1,204.3 L447.8,203.5 L446.5,202.7 L445.3,201.8 L444.0,201.0 L442.7,200.2 L441.4,199.4 L440.1,198.6 L438.8,197.9 L437.5,197.1 L436.2,196.3 L434.9,195.5 L433.6,194.8 L432.3,194.0 L431.0,193.3 L429.7,192.5 L428.4,191.8 L427.0,191.1 L425.7,190.4 L424.4,189.7 L423.0,189.0 L421.7,188.3 L420.3,187.6 L419.0,186.9 L417.6,186.3 L416.2,185.6 L414.9,185.0 L413.5,184.3 L412.1,183.7 L410.7,183.1 L409.3,182.5 L407.9,181.9 L406.5,181.3 L405.1,180.7 L403.7,180.2 L402.3,179.6 L400.9,179.1 L399.5,178.6 L398.0,178.1 L396.6,177.6 L395.2,177.1 L393.7,176.6 L392.3,176.1 L390.8,175.7 L389.4,175.3 L387.9,174.8 L386.5,174.4 L385.0,174.0 L383.5,173.7 L382.0,173.3 L380.6,173.0 L379.1,172.6 L377.6,172.3 L376.1,172.0 L374.6,171.7 L373.1,171.4 L371.6,171.2 L370.1,170.9 L368.6,170.7 L367.1,170.5 L365.6,170.3 L364.1,170.1 L362.6,170.0 L361.1,169.8 L359.6,169.7 L358.0,169.6 L356.5,169.4 L355.0,169.4 L353.5,169.3 L352.0,169.2 L350.5,169.2 L348.9,169.2 L347.4,169.2 L345.9,169.2 L344.4,169.2 L342.9,169.3 L341.3,169.3 L339.8,169.4 L338.3,169.5 L336.8,169.6 L335.3,169.7 L333.8,169.9 L332.2,170.0 L330.7,170.2 L329.2,170.4 L327.7,170.6 L326.2,170.8 L324.7,171.0 L323.2,171.3 L321.7,171.5 L320.2,171.8 L318.7,172.1 L317.2,172.4 L315.8,172.7 L314.3,173.1 L312.8,173.4 L311.3,173.8 L309.9,174.2 L308.4,174.6 L306.9,175.0 L305.5,175.4 L304.0,175.8 L302.6,176.3 L301.1,176.8 L299.7,177.2 L298.2,177.7 L296.8,178.2 L295.4,178.7 L294.0,179.3 L292.5,179.8 L291.1,180.4 L289.7,181.0 L288.3,181.5 L286.9,182.1 L285.5,182.8 L284.2,183.4 L282.8,184.0 L281.4,184.7 L280.0,185.3 L278.7,186.0 L277.3,186.7 L276.0,187.4 L274.6,188.1 L273.3,188.8 L272.0,189.6 L270.7,190.3 L269.4,191.1 L268.0,191.9 L266.8,192.7 L265.5,193.5 L264.2,194.3 L262.9,195.1 L261.6,195.9 L260.4,196.8 L259.1,197.6 L257.9,198.5 L256.6,199.4 L255.4,200.2 L254.2,201.1 L253.0,202.0 L251.7,203.0 L250.5,203.9 L249.3,204.8 L248.2,205.7 L247.0,206.7 L245.8,207.6 L244.6,208.5 L243.5,209.4 L242.3,210.3 L241.1,211.1 L239.9,211.9 L238.6,212.5 L237.4,213.1 L236.1,213.5 L234.8,213.8 L233.6,213.9 L232.3,213.8 L231.0,213.5 L229.7,213.0 L228.4,212.5 L227.2,211.8 L225.9,211.1 L224.7,210.3 L223.5,209.4 L222.4,208.6 L221.2,207.7 L220.0,206.7 L218.8,205.8 L217.7,204.9 L216.5,203.9 L215.2,203.0 L214.0,202.1 L212.7,201.2 L211.5,200.4 L210.1,199.5 L208.8,198.8 L207.4,198.0 L206.0,197.4 L204.6,196.7 L203.1,196.2 L201.6,195.6 L200.1,195.2 L198.6,194.8 L197.1,194.5 L195.5,194.3 L193.9,194.1 L192.4,194.0 L190.8,194.0 L189.2,194.1 L187.6,194.3 L186.1,194.5 L184.6,194.8 L183.0,195.1 L181.5,195.5 L180.0,196.0 L178.6,196.5 L177.1,197.0 L175.7,197.6 L174.3,198.2 L172.9,198.8 L171.5,199.4 L170.1,200.1 L168.7,200.8 L167.4,201.5 L166.1,202.2 L164.7,203.0 L163.4,203.7 L162.1,204.5 L160.8,205.3 L159.5,206.1 L158.2,206.9 L156.9,207.7 L155.7,208.5 L154.4,209.4 L153.1,210.2 L151.9,211.0 L150.6,211.9 L149.4,212.8 L148.2,213.6 L146.9,214.5 L145.7,215.4 L144.5,216.3 L143.3,217.2 L142.1,218.1 L140.9,219.0 L139.7,220.0 L138.5,220.9 L137.3,221.8 L136.1,222.8 L134.9,223.7 L133.8,224.7 L132.6,225.6 L131.4,226.6 L130.3,227.6 L129.1,228.6 L128.0,229.5 L126.8,230.5 L125.7,231.5 L124.5,232.5 L123.4,233.5 L122.3,234.5 L121.2,235.5 L120.0,236.5 L118.9,237.5 L117.8,238.5 L116.7,239.5 L115.6,240.6 L114.5,241.6 L113.4,242.6 L112.3,243.7 L111.2,244.7 L110.1,245.7 L109.0,246.8 L107.9,247.8 L106.8,248.8 L105.7,249.9 L104.6,250.9 L103.5,252.0 L102.5,253.0 L101.4,254.1 L100.3,255.2 L99.2,256.2 L98.2,257.3 L97.1,258.3 L96.0,259.4 L95.0,260.5 L93.9,261.5 L92.9,262.6 L91.8,263.7 L90.7,264.8 L89.7,265.8 L88.6,266.9Z" fill="#3366ff" stroke="none" clip-path="url(#clipA)"/>
<path d="M90.5,259.8 L91.6,258.8 L92.8,257.8 L93.9,256.8 L95.0,255.8 L96.1,254.8 L97.3,253.8 L98.4,252.8 L99.5,251.7 L100.6,250.7 L101.7,249.7 L102.8,248.6 L103.9,247.6 L104.9,246.5 L106.0,245.4 L107.1,244.4 L108.1,243.3 L109.2,242.2 L110.3,241.1 L111.3,240.1 L112.4,239.0 L113.4,237.9 L114.5,236.8 L115.5,235.7 L116.5,234.6 L117.6,233.5 L118.6,232.4 L119.6,231.3 L120.7,230.2 L121.7,229.1 L122.7,228.0 L123.7,226.9 L124.8,225.8 L125.8,224.7 L126.8,223.6 L127.8,222.5 L128.8,221.4 L129.9,220.3 L130.9,219.2 L131.9,218.1 L132.9,216.9 L133.9,215.8 L135.0,214.7 L136.0,213.6 L137.0,212.5 L138.0,211.4 L139.1,210.3 L140.1,209.2 L141.1,208.1 L142.1,207.0 L143.2,205.9 L144.2,204.8 L145.2,203.7 L146.3,202.7 L147.3,201.6 L148.3,200.5 L149.4,199.4 L150.4,198.3 L151.5,197.3 L152.5,196.2 L153.6,195.1 L154.6,194.1 L155.7,193.0 L156.8,192.0 L157.8,190.9 L158.9,189.9 L160.0,188.8 L161.1,187.8 L162.2,186.8 L163.3,185.8 L164.4,184.8 L165.5,183.8 L166.6,182.8 L167.7,181.8 L168.9,180.8 L170.0,179.8 L171.2,178.9 L172.3,177.9 L173.5,177.0 L174.6,176.1 L175.8,175.2 L177.0,174.3 L178.2,173.4 L179.4,172.5 L180.6,171.6 L181.8,170.8 L183.1,170.0 L184.3,169.2 L185.6,168.4 L186.8,167.6 L188.1,166.9 L189.4,166.2 L190.7,165.5 L192.0,164.8 L193.4,164.1 L194.7,163.5 L196.0,162.9 L197.4,162.3 L198.8,161.8 L200.1,161.3 L201.5,160.8 L202.9,160.3 L204.3,159.9 L205.8,159.6 L207.2,159.2 L208.6,158.9 L210.1,158.7 L211.5,158.5 L213.0,158.3 L214.4,158.2 L215.9,158.2 L217.3,158.1 L218.8,158.2 L220.2,158.2 L221.7,158.3 L223.2,158.5 L224.6,158.7 L226.1,158.9 L227.5,159.1 L229.0,159.4 L230.4,159.7 L231.8,160.1 L233.3,160.4 L234.7,160.8 L236.1,161.3 L237.5,161.7 L238.9,162.2 L240.3,162.6 L241.7,163.1 L243.1,163.7 L244.5,164.2 L245.9,164.7 L247.3,165.3 L248.7,165.9 L250.1,166.4 L251.4,167.0 L252.8,167.6 L254.2,168.2 L255.6,168.8 L256.9,169.5 L258.3,170.1 L259.7,170.7 L261.0,171.3 L262.4,171.9 L263.8,172.6 L265.2,173.2 L266.5,173.8 L267.9,174.4 L269.3,175.0 L270.6,175.7 L272.0,176.3 L273.4,176.9 L274.8,177.5 L276.1,178.1 L277.5,178.7 L278.9,179.3 L280.3,180.0 L281.6,180.6 L283.0,181.2 L284.4,181.8 L285.8,182.4 L287.1,183.0 L288.5,183.6 L289.9,184.3 L291.3,184.9 L292.6,185.5 L294.0,186.1 L295.4,186.7 L296.7,187.4 L298.1,188.0 L299.5,188.6 L300.8,189.2 L302.2,189.9 L303.6,190.5 L304.9,191.1 L306.3,191.8 L307.6,192.4 L309.0,193.1 L310.3,193.7 L311.7,194.4 L313.0,195.0 L314.4,195.7 L315.7,196.3 L317.1,197.0 L318.4,197.7 L319.8,198.4 L321.1,199.0 L322.4,199.7 L323.8,200.4 L325.1,201.1 L326.4,201.8 L327.8,202.5 L329.1,203.2 L330.4,203.9 L331.7,204.6 L333.0,205.3 L334.4,206.1 L335.7,206.8 L337.0,207.5 L338.3,208.3 L339.6,209.0 L340.9,209.8 L342.2,210.5 L343.5,211.3 L344.8,212.0 L346.0,212.8 L347.3,213.6 L348.6,214.4 L349.9,215.2 L351.2,215.9 L352.4,216.7 L353.7,217.5 L355.0,218.4 L356.2,219.2 L357.5,220.0 L358.7,220.8 L360.0,221.6 L361.2,222.5 L362.5,223.3 L363.7,224.1 L364.9,225.0 L366.2,225.8 L367.4,226.7 L368.6,227.6 L369.8,228.4 L371.1,229.3 L372.3,230.2 L373.5,231.1 L374.7,232.0 L375.9,232.9 L377.1,233.8 L378.3,234.7 L379.5,235.6 L380.7,236.5 L381.9,237.4 L383.0,238.3 L384.2,239.2 L385.4,240.2 L386.6,241.1 L387.7,242.1 L388.9,243.0 L390.1,244.0 L391.2,244.9 L392.4,245.9 L393.5,246.8 L394.7,247.8 L395.8,248.8 L396.9,249.8 L398.1,250.7 L399.2,251.7 L400.3,252.7 L401.4,253.7 L402.6,254.7 L403.7,255.7 L404.8,256.7 L405.9,257.7 L407.0,258.8 L408.1,259.8 L409.2,260.8 L410.3,261.8 L411.4,262.9 L412.5,263.9 L413.5,264.9 L414.6,266.0 L415.7,267.0 L416.8,268.1 L417.8,269.1 L418.9,270.2 L420.0,271.2 L421.0,272.3 L422.1,273.3 L423.2,274.4 L424.2,275.5 L425.3,276.6 L426.3,277.6 L427.3,278.7 L428.4,279.8 L429.4,280.9 L430.5,282.0 L431.5,283.1 L432.5,284.1 L433.6,285.2 L434.6,286.3 L435.6,287.4 L436.6,288.5 L437.6,289.6 L438.7,290.7 L439.7,291.9 L440.7,293.0 L441.7,294.1 L442.7,295.2 L443.7,296.3 L444.7,297.4 L445.7,298.6 L446.7,299.7 L447.7,300.8 L448.7,301.9 L449.7,303.1 L450.7,304.2 L451.6,305.3 L452.6,306.5 L453.6,307.6 L454.6,308.7 L455.6,309.9 L456.5,311.0 L457.5,312.2 L458.5,313.3 L459.5,314.5 L460.4,315.6 L461.4,316.8 L462.4,317.9 L463.3,319.1 L464.3,320.2 L465.2,321.4 L466.2,322.5 L467.1,323.7 L468.1,324.9 L469.1,326.0 L470.0,327.2 L471.0,328.4 L471.9,329.5 L472.8,330.7 L473.8,331.9 L474.7,333.0 L475.7,334.2 L476.6,335.4 L477.6,336.6 L478.5,337.7 L479.4,338.9 L480.4,340.1 L481.3,341.3 L482.2,342.4 L483.2,343.6 L484.1,344.8 L485.0,346.0 L486.0,347.2 L486.9,348.4 L487.8,349.5 L488.7,350.7 L489.7,351.9 L490.6,353.1 L491.5,354.3 L492.4,355.5 L493.3,356.7 L494.3,357.9 L495.2,359.0 L496.1,360.2 L497.0,361.4 L497.9,362.6 L498.9,363.8 L499.8,365.0 L500.7,366.2 L501.6,367.4 L502.5,368.6 L503.4,369.8 L504.4,371.0 L505.3,372.2 L506.2,373.4 L507.1,374.6 L508.0,375.8 L508.9,377.0 L509.8,378.2 L510.7,379.4 L511.6,380.5 L512.6,381.7 L513.5,382.9 L514.4,384.1 L515.3,385.3 L516.2,386.5 L517.1,387.7 L518.0,388.9 L518.9,390.1 L519.8,391.3 L520.7,392.5 L521.6,393.7 L522.6,394.9 L523.5,396.1 L524.4,397.3 L525.3,398.5 L526.2,399.7 L527.1,400.9 L528.0,402.1 L528.9,403.3 L529.8,404.5 L530.7,405.7 L531.6,406.9 L532.6,408.1 L533.5,409.3 L534.4,410.5 L535.3,411.7 L536.2,412.9 L537.1,414.1 L538.0,415.3 L538.9,416.5 L539.8,417.7 L540.8,418.9 L541.7,420.1 L542.6,421.3 L543.5,422.5 L544.4,423.7 L545.3,424.9 L546.2,426.1 L548.6,424.3 L547.7,423.1 L546.8,421.9 L545.9,420.7 L545.0,419.5 L544.1,418.3 L543.1,417.1 L542.2,415.9 L541.3,414.7 L540.4,413.5 L539.5,412.3 L538.6,411.1 L537.7,409.9 L536.8,408.7 L535.9,407.5 L534.9,406.3 L534.0,405.1 L533.1,403.9 L532.2,402.7 L531.3,401.5 L530.4,400.3 L529.5,399.1 L528.6,397.9 L527.7,396.7 L526.8,395.5 L525.9,394.3 L524.9,393.1 L524.0,391.9 L523.1,390.7 L522.2,389.5 L521.3,388.3 L520.4,387.1 L519.5,385.9 L518.6,384.7 L517.7,383.5 L516.8,382.3 L515.9,381.1 L514.9,379.9 L514.0,378.7 L513.1,377.5 L512.2,376.3 L511.3,375.1 L510.4,373.9 L509.5,372.7 L508.6,371.5 L507.6,370.3 L506.7,369.2 L505.8,368.0 L504.9,366.8 L504.0,365.6 L503.1,364.4 L502.2,363.2 L501.2,362.0 L500.3,360.8 L499.4,359.6 L498.5,358.4 L497.6,357.2 L496.6,356.0 L495.7,354.8 L494.8,353.6 L493.9,352.4 L492.9,351.3 L492.0,350.1 L491.1,348.9 L490.2,347.7 L489.2,346.5 L488.3,345.3 L487.4,344.1 L486.5,343.0 L485.5,341.8 L484.6,340.6 L483.6,339.4 L482.7,338.2 L481.8,337.0 L480.8,335.9 L479.9,334.7 L479.0,333.5 L478.0,332.3 L477.1,331.2 L476.1,330.0 L475.2,328.8 L474.2,327.6 L473.3,326.5 L472.3,325.3 L471.4,324.1 L470.4,323.0 L469.5,321.8 L468.5,320.6 L467.5,319.5 L466.6,318.3 L465.6,317.2 L464.7,316.0 L463.7,314.8 L462.7,313.7 L461.8,312.5 L460.8,311.4 L459.8,310.2 L458.8,309.1 L457.8,307.9 L456.9,306.8 L455.9,305.6 L454.9,304.5 L453.9,303.4 L452.9,302.2 L451.9,301.1 L450.9,300.0 L449.9,298.8 L448.9,297.7 L447.9,296.6 L446.9,295.4 L445.9,294.3 L444.9,293.2 L443.9,292.1 L442.9,291.0 L441.9,289.8 L440.9,288.7 L439.9,287.6 L438.8,286.5 L437.8,285.4 L436.8,284.3 L435.7,283.2 L434.7,282.1 L433.7,281.0 L432.6,279.9 L431.6,278.8 L430.6,277.7 L429.5,276.6 L428.5,275.5 L427.4,274.5 L426.3,273.4 L425.3,272.3 L424.2,271.2 L423.2,270.2 L422.1,269.1 L421.0,268.0 L420.0,267.0 L418.9,265.9 L417.8,264.9 L416.7,263.8 L415.6,262.8 L414.5,261.7 L413.4,260.7 L412.3,259.6 L411.2,258.6 L410.1,257.6 L409.0,256.5 L407.9,255.5 L406.8,254.5 L405.7,253.5 L404.6,252.5 L403.4,251.5 L402.3,250.5 L401.2,249.5 L400.0,248.5 L398.9,247.5 L397.7,246.5 L396.6,245.5 L395.4,244.5 L394.3,243.6 L393.1,242.6 L392.0,241.6 L390.8,240.7 L389.6,239.7 L388.4,238.8 L387.3,237.8 L386.1,236.9 L384.9,236.0 L383.7,235.0 L382.5,234.1 L381.3,233.2 L380.1,232.3 L378.9,231.4 L377.7,230.4 L376.5,229.5 L375.3,228.7 L374.0,227.8 L372.8,226.9 L371.6,226.0 L370.4,225.1 L369.1,224.2 L367.9,223.4 L366.6,222.5 L365.4,221.7 L364.1,220.8 L362.9,220.0 L361.6,219.1 L360.4,218.3 L359.1,217.5 L357.8,216.6 L356.6,215.8 L355.3,215.0 L354.0,214.2 L352.7,213.4 L351.5,212.6 L350.2,211.8 L348.9,211.0 L347.6,210.2 L346.3,209.5 L345.0,208.7 L343.7,207.9 L342.4,207.2 L341.1,206.4 L339.8,205.7 L338.5,204.9 L337.1,204.2 L335.8,203.4 L334.5,202.7 L333.2,202.0 L331.8,201.3 L330.5,200.5 L329.2,199.8 L327.8,199.1 L326.5,198.4 L325.2,197.7 L323.8,197.0 L322.5,196.4 L321.1,195.7 L319.8,195.0 L318.4,194.3 L317.1,193.7 L315.7,193.0 L314.4,192.3 L313.0,191.7 L311.6,191.0 L310.3,190.4 L308.9,189.7 L307.6,189.1 L306.2,188.4 L304.8,187.8 L303.5,187.2 L302.1,186.5 L300.7,185.9 L299.3,185.3 L298.0,184.6 L296.6,184.0 L295.2,183.4 L293.9,182.8 L292.5,182.1 L291.1,181.5 L289.7,180.9 L288.4,180.3 L287.0,179.7 L285.6,179.1 L284.2,178.4 L282.9,177.8 L281.5,177.2 L280.1,176.6 L278.7,176.0 L277.4,175.4 L276.0,174.8 L274.6,174.2 L273.2,173.5 L271.9,172.9 L270.5,172.3 L269.1,171.7 L267.8,171.1 L266.4,170.5 L265.0,169.8 L263.7,169.2 L262.3,168.6 L260.9,168.0 L259.5,167.3 L258.2,166.7 L256.8,166.1 L255.4,165.5 L254.0,164.9 L252.6,164.3 L251.2,163.7 L249.8,163.1 L248.4,162.5 L247.0,162.0 L245.6,161.4 L244.2,160.9 L242.8,160.3 L241.3,159.8 L239.9,159.3 L238.4,158.8 L237.0,158.4 L235.5,158.0 L234.0,157.5 L232.6,157.2 L231.1,156.8 L229.6,156.5 L228.1,156.2 L226.5,155.9 L225.0,155.7 L223.5,155.5 L222.0,155.3 L220.4,155.2 L218.9,155.2 L217.3,155.1 L215.8,155.2 L214.2,155.2 L212.7,155.4 L211.1,155.5 L209.6,155.7 L208.1,156.0 L206.5,156.3 L205.0,156.7 L203.5,157.0 L202.1,157.5 L200.6,157.9 L199.1,158.4 L197.7,159.0 L196.3,159.5 L194.8,160.1 L193.4,160.8 L192.1,161.4 L190.7,162.1 L189.3,162.8 L188.0,163.5 L186.6,164.3 L185.3,165.0 L184.0,165.8 L182.7,166.6 L181.4,167.5 L180.2,168.3 L178.9,169.2 L177.7,170.1 L176.4,171.0 L175.2,171.9 L174.0,172.8 L172.8,173.7 L171.6,174.7 L170.4,175.6 L169.2,176.6 L168.1,177.5 L166.9,178.5 L165.8,179.5 L164.6,180.5 L163.5,181.5 L162.4,182.5 L161.3,183.6 L160.1,184.6 L159.0,185.6 L157.9,186.7 L156.8,187.7 L155.8,188.8 L154.7,189.8 L153.6,190.9 L152.5,191.9 L151.5,193.0 L150.4,194.1 L149.3,195.2 L148.3,196.2 L147.2,197.3 L146.2,198.4 L145.1,199.5 L144.1,200.6 L143.0,201.7 L142.0,202.8 L141.0,203.9 L139.9,205.0 L138.9,206.1 L137.9,207.2 L136.9,208.3 L135.8,209.4 L134.8,210.5 L133.8,211.6 L132.8,212.7 L131.7,213.8 L130.7,214.9 L129.7,216.0 L128.7,217.1 L127.7,218.2 L126.6,219.3 L125.6,220.5 L124.6,221.6 L123.6,222.7 L122.6,223.8 L121.5,224.9 L120.5,226.0 L119.5,227.1 L118.5,228.2 L117.4,229.3 L116.4,230.4 L115.4,231.5 L114.4,232.6 L113.3,233.6 L112.3,234.7 L111.2,235.8 L110.2,236.9 L109.2,238.0 L108.1,239.1 L107.1,240.1 L106.0,241.2 L105.0,242.3 L103.9,243.3 L102.8,244.4 L101.8,245.4 L100.7,246.5 L99.6,247.5 L98.5,248.5 L97.4,249.6 L96.3,250.6 L95.2,251.6 L94.1,252.6 L93.0,253.6 L91.9,254.6 L90.8,255.6 L89.6,256.6 L88.5,257.6Z" fill="#ff0000" stroke="none" clip-path="url(#clipA)"/>
<path d="M91.5,318.7 L92.3,317.5 L93.2,316.2 L94.0,315.0 L94.9,313.7 L95.7,312.5 L96.6,311.3 L97.4,310.0 L98.3,308.8 L99.1,307.6 L100.0,306.3 L100.9,305.1 L101.7,303.9 L102.6,302.6 L103.4,301.4 L104.3,300.2 L105.2,298.9 L106.0,297.7 L106.9,296.5 L107.8,295.3 L108.6,294.0 L109.5,292.8 L110.4,291.6 L111.2,290.3 L112.1,289.1 L113.0,287.9 L113.8,286.7 L114.7,285.4 L115.6,284.2 L116.4,283.0 L117.3,281.8 L118.2,280.5 L119.0,279.3 L119.9,278.1 L120.8,276.8 L121.6,275.6 L122.5,274.4 L123.4,273.2 L124.3,271.9 L125.1,270.7 L126.0,269.5 L126.9,268.3 L127.7,267.0 L128.6,265.8 L129.5,264.6 L130.3,263.4 L131.2,262.1 L132.1,260.9 L132.9,259.7 L133.8,258.4 L134.7,257.2 L135.5,256.0 L136.4,254.7 L137.3,253.5 L138.1,252.3 L139.0,251.0 L139.9,249.8 L140.7,248.6 L141.6,247.3 L142.4,246.1 L143.3,244.9 L144.2,243.6 L145.0,242.4 L145.9,241.2 L146.7,239.9 L147.6,238.7 L148.4,237.4 L149.3,236.2 L150.1,235.0 L151.0,233.7 L151.8,232.5 L152.7,231.2 L153.5,230.0 L154.4,228.8 L155.2,227.5 L156.1,226.3 L156.9,225.0 L157.8,223.8 L158.6,222.6 L159.5,221.3 L160.3,220.1 L161.2,218.9 L162.0,217.6 L162.9,216.4 L163.8,215.2 L164.6,214.0 L165.5,212.7 L166.4,211.5 L167.3,210.3 L168.2,209.1 L169.0,207.9 L169.9,206.7 L170.8,205.5 L171.7,204.3 L172.6,203.1 L173.5,201.9 L174.5,200.8 L175.4,199.6 L176.3,198.4 L177.3,197.3 L178.2,196.1 L179.2,195.0 L180.1,193.8 L181.1,192.7 L182.1,191.6 L183.1,190.5 L184.1,189.4 L185.1,188.3 L186.1,187.2 L187.2,186.1 L188.2,185.0 L189.2,184.0 L190.3,182.9 L191.4,181.9 L192.5,180.9 L193.6,179.9 L194.7,178.9 L195.8,177.9 L196.9,177.0 L198.1,176.0 L199.2,175.1 L200.4,174.2 L201.6,173.3 L202.8,172.4 L204.0,171.6 L205.2,170.7 L206.4,169.9 L207.7,169.1 L208.9,168.4 L210.2,167.6 L211.5,166.9 L212.8,166.2 L214.1,165.5 L215.4,164.9 L216.8,164.3 L218.1,163.7 L219.5,163.1 L220.8,162.6 L222.2,162.1 L223.6,161.6 L225.0,161.2 L226.4,160.8 L227.9,160.5 L229.3,160.1 L230.7,159.8 L232.2,159.6 L233.6,159.3 L235.1,159.1 L236.6,158.9 L238.0,158.8 L239.5,158.6 L241.0,158.5 L242.5,158.4 L244.0,158.3 L245.4,158.2 L246.9,158.2 L248.4,158.1 L249.9,158.1 L251.4,158.1 L252.9,158.1 L254.4,158.1 L255.9,158.0 L257.4,158.0 L258.9,158.0 L260.4,158.0 L261.9,158.0 L263.4,158.0 L264.9,158.0 L266.4,158.0 L267.9,158.0 L269.4,158.0 L271.0,158.0 L272.5,157.9 L274.0,157.9 L275.5,157.9 L277.0,157.9 L278.5,157.9 L280.0,157.9 L281.5,157.8 L283.0,157.8 L284.5,157.8 L286.0,157.8 L287.5,157.8 L289.0,157.8 L290.5,157.8 L292.0,157.8 L293.5,157.8 L295.0,157.8 L296.5,157.8 L298.0,157.8 L299.5,157.8 L301.0,157.8 L302.5,157.8 L304.0,157.8 L305.5,157.8 L307.0,157.9 L308.5,157.9 L310.0,157.9 L311.5,158.0 L313.0,158.0 L314.5,158.1 L316.0,158.1 L317.5,158.2 L319.0,158.2 L320.5,158.3 L322.0,158.4 L323.5,158.5 L324.9,158.6 L326.4,158.7 L327.9,158.8 L329.4,158.9 L330.9,159.0 L332.4,159.1 L333.9,159.3 L335.4,159.4 L336.9,159.6 L338.4,159.7 L339.8,159.9 L341.3,160.1 L342.8,160.3 L344.3,160.5 L345.8,160.7 L347.2,160.9 L348.7,161.1 L350.2,161.4 L351.7,161.6 L353.1,161.9 L354.6,162.2 L356.1,162.4 L357.5,162.7 L359.0,163.0 L360.4,163.4 L361.9,163.7 L363.4,164.0 L364.8,164.4 L366.3,164.7 L367.7,165.1 L369.1,165.5 L370.6,165.8 L372.0,166.2 L373.5,166.7 L374.9,167.1 L376.3,167.5 L377.7,168.0 L379.2,168.4 L380.6,168.9 L382.0,169.3 L383.4,169.8 L384.8,170.3 L386.2,170.8 L387.6,171.3 L389.0,171.8 L390.4,172.4 L391.8,172.9 L393.2,173.5 L394.6,174.0 L396.0,174.6 L397.4,175.1 L398.7,175.7 L400.1,176.3 L401.5,176.9 L402.8,177.5 L404.2,178.2 L405.6,178.8 L406.9,179.4 L408.3,180.1 L409.6,180.7 L410.9,181.4 L412.3,182.0 L413.6,182.7 L414.9,183.4 L416.3,184.1 L417.6,184.8 L418.9,185.5 L420.2,186.2 L421.5,186.9 L422.8,187.7 L424.1,188.4 L425.4,189.1 L426.7,189.9 L428.0,190.6 L429.3,191.4 L430.6,192.2 L431.9,193.0 L433.1,193.7 L434.4,194.5 L435.7,195.3 L436.9,196.1 L438.2,196.9 L439.5,197.8 L440.7,198.6 L442.0,199.4 L443.2,200.2 L444.4,201.1 L445.7,201.9 L446.9,202.8 L448.1,203.6 L449.4,204.5 L450.6,205.3 L451.8,206.2 L453.0,207.1 L454.2,208.0 L455.5,208.8 L456.7,209.7 L457.9,210.6 L459.1,211.5 L460.3,212.4 L461.5,213.3 L462.7,214.2 L463.9,215.1 L465.1,216.0 L466.2,216.9 L467.4,217.9 L468.6,218.8 L469.8,219.7 L471.0,220.6 L472.1,221.6 L473.3,222.5 L474.5,223.4 L475.7,224.4 L476.8,225.3 L478.0,226.3 L479.2,227.2 L480.3,228.2 L481.5,229.1 L482.6,230.1 L483.8,231.0 L484.9,232.0 L486.1,232.9 L487.3,233.9 L488.4,234.9 L489.5,235.8 L490.7,236.8 L491.8,237.8 L493.0,238.7 L494.1,239.7 L495.3,240.7 L496.4,241.7 L497.5,242.6 L498.7,243.6 L499.8,244.6 L501.0,245.6 L502.1,246.6 L503.2,247.6 L504.4,248.5 L505.5,249.5 L506.6,250.5 L507.7,251.5 L508.9,252.5 L510.0,253.5 L511.1,254.5 L512.3,255.5 L513.4,256.5 L514.5,257.5 L515.6,258.5 L516.8,259.5 L517.9,260.5 L519.0,261.5 L520.1,262.5 L521.2,263.5 L522.4,264.5 L523.5,265.5 L524.6,266.5 L525.7,267.5 L526.9,268.5 L528.0,269.5 L529.1,270.5 L530.2,271.5 L531.3,272.5 L532.5,273.5 L533.6,274.5 L534.7,275.5 L535.8,276.5 L536.9,277.5 L538.1,278.5 L539.2,279.5 L540.3,280.5 L541.4,281.5 L542.5,282.5 L543.7,283.5 L544.8,284.5 L545.9,285.5 L547.0,286.5 L548.2,287.5 L549.3,288.5 L550.4,289.5 L551.5,290.5 L552.6,291.5 L553.8,292.5 L554.9,293.5 L556.0,294.5 L557.1,295.5 L558.2,296.5 L559.4,297.5 L560.5,298.5 L561.6,299.5 L562.7,300.5 L563.8,301.5 L565.0,302.5 L566.1,303.5 L567.2,304.5 L568.3,305.5 L569.4,306.5 L570.6,307.5 L571.7,308.5 L572.8,309.5 L573.9,310.6 L575.0,311.6 L576.2,312.6 L577.3,313.6 L578.4,314.6 L579.5,315.6 L580.6,316.6 L581.8,317.6 L582.9,318.6 L584.0,319.6 L585.1,320.6 L586.2,321.6 L587.3,322.6 L588.5,323.6 L589.6,324.6 L590.7,325.6 L591.8,326.6 L592.9,327.6 L594.0,328.7 L595.1,329.7 L596.3,330.7 L597.4,331.7 L598.5,332.7 L599.6,333.7 L600.7,334.7 L601.8,335.7 L602.9,336.7 L604.1,337.7 L605.2,338.8 L606.3,339.8 L607.4,340.8 L608.5,341.8 L609.6,342.8 L610.7,343.8 L611.8,344.8 L612.9,345.8 L614.0,346.9 L615.2,347.9 L616.3,348.9 L617.4,349.9 L618.5,350.9 L619.6,351.9 L620.7,352.9 L621.8,354.0 L622.9,355.0 L624.0,356.0 L625.1,357.0 L626.2,358.0 L627.3,359.1 L628.4,360.1 L629.5,361.1 L630.6,362.1 L631.7,363.1 L632.8,364.2 L633.9,365.2 L635.0,366.2 L636.1,367.2 L637.2,368.3 L638.3,369.3 L639.4,370.3 L640.5,371.3 L641.6,372.4 L642.7,373.4 L643.8,374.4 L644.9,375.4 L646.0,376.5 L647.1,377.5 L648.2,378.5 L649.3,379.6 L650.4,380.6 L651.5,381.6 L652.6,382.7 L653.7,383.7 L654.8,384.7 L655.8,385.8 L656.9,386.8 L658.0,387.8 L659.1,388.9 L660.2,389.9 L661.3,390.9 L662.4,392.0 L663.5,393.0 L664.5,394.1 L665.6,395.1 L666.7,396.1 L667.8,397.2 L668.9,398.2 L670.0,399.3 L671.0,400.3 L672.1,401.3 L673.2,402.4 L674.3,403.4 L675.4,404.5 L676.4,405.5 L677.5,406.6 L678.6,407.6 L679.7,408.7 L680.7,409.7 L681.8,410.8 L682.9,411.8 L684.0,412.9 L685.0,413.9 L686.1,415.0 L687.2,416.0 L688.2,417.1 L689.3,418.1 L690.4,419.2 L691.4,420.3 L692.5,421.3 L693.6,422.4 L694.6,423.4 L695.7,424.5 L696.8,425.6 L698.9,423.4 L697.8,422.4 L696.8,421.3 L695.7,420.2 L694.6,419.2 L693.6,418.1 L692.5,417.1 L691.4,416.0 L690.4,415.0 L689.3,413.9 L688.2,412.8 L687.1,411.8 L686.1,410.7 L685.0,409.7 L683.9,408.6 L682.8,407.6 L681.8,406.5 L680.7,405.5 L679.6,404.4 L678.5,403.4 L677.4,402.3 L676.4,401.3 L675.3,400.2 L674.2,399.2 L673.1,398.1 L672.0,397.1 L671.0,396.1 L669.9,395.0 L668.8,394.0 L667.7,392.9 L666.6,391.9 L665.5,390.8 L664.4,389.8 L663.4,388.8 L662.3,387.7 L661.2,386.7 L660.1,385.7 L659.0,384.6 L657.9,383.6 L656.8,382.5 L655.7,381.5 L654.6,380.5 L653.5,379.4 L652.4,378.4 L651.4,377.4 L650.3,376.3 L649.2,375.3 L648.1,374.3 L647.0,373.3 L645.9,372.2 L644.8,371.2 L643.7,370.2 L642.6,369.1 L641.5,368.1 L640.4,367.1 L639.3,366.1 L638.2,365.0 L637.1,364.0 L636.0,363.0 L634.9,362.0 L633.8,360.9 L632.7,359.9 L631.6,358.9 L630.5,357.9 L629.4,356.9 L628.3,355.8 L627.1,354.8 L626.0,353.8 L624.9,352.8 L623.8,351.8 L622.7,350.7 L621.6,349.7 L620.5,348.7 L619.4,347.7 L618.3,346.7 L617.2,345.7 L616.1,344.6 L615.0,343.6 L613.9,342.6 L612.7,341.6 L611.6,340.6 L610.5,339.6 L609.4,338.6 L608.3,337.5 L607.2,336.5 L606.1,335.5 L605.0,334.5 L603.8,333.5 L602.7,332.5 L601.6,331.5 L600.5,330.5 L599.4,329.5 L598.3,328.4 L597.2,327.4 L596.0,326.4 L594.9,325.4 L593.8,324.4 L592.7,323.4 L591.6,322.4 L590.5,321.4 L589.3,320.4 L588.2,319.4 L587.1,318.4 L586.0,317.4 L584.9,316.4 L583.8,315.4 L582.6,314.3 L581.5,313.3 L580.4,312.3 L579.3,311.3 L578.2,310.3 L577.0,309.3 L575.9,308.3 L574.8,307.3 L573.7,306.3 L572.6,305.3 L571.4,304.3 L570.3,303.3 L569.2,302.3 L568.1,301.3 L567.0,300.3 L565.8,299.3 L564.7,298.3 L563.6,297.3 L562.5,296.3 L561.4,295.3 L560.2,294.3 L559.1,293.3 L558.0,292.3 L556.9,291.3 L555.8,290.3 L554.6,289.3 L553.5,288.3 L552.4,287.3 L551.3,286.3 L550.2,285.3 L549.0,284.3 L547.9,283.3 L546.8,282.3 L545.7,281.3 L544.5,280.3 L543.4,279.3 L542.3,278.3 L541.2,277.2 L540.1,276.2 L538.9,275.2 L537.8,274.2 L536.7,273.2 L535.6,272.2 L534.5,271.2 L533.3,270.2 L532.2,269.2 L531.1,268.2 L530.0,267.2 L528.9,266.2 L527.7,265.2 L526.6,264.2 L525.5,263.2 L524.4,262.2 L523.2,261.2 L522.1,260.2 L521.0,259.2 L519.9,258.2 L518.7,257.2 L517.6,256.2 L516.5,255.2 L515.4,254.2 L514.2,253.2 L513.1,252.2 L512.0,251.2 L510.9,250.3 L509.7,249.3 L508.6,248.3 L507.5,247.3 L506.3,246.3 L505.2,245.3 L504.1,244.3 L502.9,243.3 L501.8,242.3 L500.6,241.4 L499.5,240.4 L498.4,239.4 L497.2,238.4 L496.1,237.4 L494.9,236.5 L493.8,235.5 L492.6,234.5 L491.5,233.5 L490.3,232.6 L489.2,231.6 L488.0,230.6 L486.9,229.7 L485.7,228.7 L484.5,227.7 L483.4,226.8 L482.2,225.8 L481.1,224.9 L479.9,223.9 L478.7,223.0 L477.5,222.0 L476.4,221.1 L475.2,220.1 L474.0,219.2 L472.8,218.3 L471.6,217.3 L470.5,216.4 L469.3,215.5 L468.1,214.6 L466.9,213.6 L465.7,212.7 L464.5,211.8 L463.3,210.9 L462.1,210.0 L460.9,209.1 L459.7,208.2 L458.4,207.3 L457.2,206.4 L456.0,205.5 L454.8,204.6 L453.6,203.8 L452.3,202.9 L451.1,202.0 L449.9,201.2 L448.6,200.3 L447.4,199.4 L446.1,198.6 L444.9,197.7 L443.6,196.9 L442.4,196.1 L441.1,195.2 L439.8,194.4 L438.6,193.6 L437.3,192.8 L436.0,192.0 L434.7,191.2 L433.4,190.4 L432.1,189.6 L430.8,188.8 L429.5,188.1 L428.2,187.3 L426.9,186.5 L425.6,185.8 L424.3,185.0 L423.0,184.3 L421.7,183.6 L420.3,182.9 L419.0,182.1 L417.7,181.4 L416.3,180.7 L415.0,180.0 L413.6,179.4 L412.3,178.7 L410.9,178.0 L409.6,177.4 L408.2,176.7 L406.8,176.1 L405.5,175.4 L404.1,174.8 L402.7,174.2 L401.3,173.6 L399.9,173.0 L398.5,172.4 L397.1,171.8 L395.7,171.2 L394.3,170.7 L392.9,170.1 L391.5,169.6 L390.1,169.0 L388.7,168.5 L387.3,168.0 L385.8,167.5 L384.4,167.0 L383.0,166.5 L381.5,166.0 L380.1,165.5 L378.6,165.1 L377.2,164.6 L375.7,164.2 L374.3,163.8 L372.8,163.4 L371.4,163.0 L369.9,162.6 L368.5,162.2 L367.0,161.8 L365.5,161.4 L364.0,161.1 L362.6,160.8 L361.1,160.4 L359.6,160.1 L358.1,159.8 L356.6,159.5 L355.1,159.2 L353.7,158.9 L352.2,158.7 L350.7,158.4 L349.2,158.2 L347.7,158.0 L346.2,157.7 L344.7,157.5 L343.2,157.3 L341.7,157.1 L340.2,156.9 L338.7,156.8 L337.2,156.6 L335.7,156.4 L334.2,156.3 L332.7,156.2 L331.2,156.0 L329.7,155.9 L328.2,155.8 L326.6,155.7 L325.1,155.6 L323.6,155.5 L322.1,155.4 L320.6,155.3 L319.1,155.2 L317.6,155.2 L316.1,155.1 L314.6,155.1 L313.1,155.0 L311.6,155.0 L310.1,154.9 L308.6,154.9 L307.0,154.9 L305.5,154.8 L304.0,154.8 L302.5,154.8 L301.0,154.8 L299.5,154.8 L298.0,154.8 L296.5,154.8 L295.0,154.8 L293.5,154.8 L292.0,154.8 L290.5,154.8 L289.0,154.8 L287.5,154.8 L286.0,154.8 L284.5,154.8 L282.9,154.8 L281.4,154.8 L279.9,154.9 L278.4,154.9 L276.9,154.9 L275.4,154.9 L273.9,154.9 L272.4,154.9 L270.9,155.0 L269.4,155.0 L267.9,155.0 L266.4,155.0 L264.9,155.0 L263.4,155.0 L261.9,155.0 L260.4,155.0 L258.9,155.0 L257.4,155.0 L255.9,155.0 L254.4,155.1 L252.9,155.1 L251.4,155.1 L249.9,155.1 L248.3,155.1 L246.8,155.2 L245.3,155.2 L243.8,155.3 L242.3,155.4 L240.8,155.5 L239.2,155.6 L237.7,155.8 L236.2,155.9 L234.7,156.1 L233.2,156.4 L231.7,156.6 L230.2,156.9 L228.7,157.2 L227.2,157.5 L225.7,157.9 L224.2,158.3 L222.7,158.8 L221.3,159.3 L219.8,159.8 L218.4,160.3 L216.9,160.9 L215.5,161.5 L214.1,162.2 L212.8,162.8 L211.4,163.5 L210.0,164.3 L208.7,165.0 L207.4,165.8 L206.1,166.6 L204.8,167.4 L203.5,168.2 L202.3,169.1 L201.0,170.0 L199.8,170.9 L198.6,171.8 L197.4,172.8 L196.2,173.7 L195.0,174.7 L193.8,175.7 L192.7,176.7 L191.6,177.7 L190.4,178.7 L189.3,179.7 L188.2,180.8 L187.1,181.9 L186.1,182.9 L185.0,184.0 L183.9,185.1 L182.9,186.2 L181.9,187.3 L180.9,188.4 L179.8,189.6 L178.8,190.7 L177.9,191.9 L176.9,193.0 L175.9,194.2 L174.9,195.4 L174.0,196.5 L173.0,197.7 L172.1,198.9 L171.2,200.1 L170.3,201.3 L169.3,202.5 L168.4,203.7 L167.5,204.9 L166.6,206.1 L165.7,207.3 L164.8,208.6 L164.0,209.8 L163.1,211.0 L162.2,212.2 L161.3,213.5 L160.5,214.7 L159.6,215.9 L158.7,217.2 L157.9,218.4 L157.0,219.6 L156.2,220.9 L155.3,222.1 L154.4,223.3 L153.6,224.6 L152.7,225.8 L151.9,227.1 L151.0,228.3 L150.2,229.5 L149.3,230.8 L148.5,232.0 L147.6,233.3 L146.8,234.5 L145.9,235.7 L145.1,237.0 L144.2,238.2 L143.4,239.5 L142.5,240.7 L141.7,241.9 L140.8,243.2 L140.0,244.4 L139.1,245.6 L138.3,246.9 L137.4,248.1 L136.5,249.3 L135.7,250.6 L134.8,251.8 L133.9,253.0 L133.1,254.2 L132.2,255.5 L131.4,256.7 L130.5,257.9 L129.6,259.2 L128.8,260.4 L127.9,261.6 L127.0,262.8 L126.2,264.1 L125.3,265.3 L124.4,266.5 L123.5,267.8 L122.7,269.0 L121.8,270.2 L120.9,271.4 L120.1,272.7 L119.2,273.9 L118.3,275.1 L117.5,276.3 L116.6,277.6 L115.7,278.8 L114.9,280.0 L114.0,281.2 L113.1,282.5 L112.2,283.7 L111.4,284.9 L110.5,286.2 L109.6,287.4 L108.8,288.6 L107.9,289.8 L107.0,291.1 L106.2,292.3 L105.3,293.5 L104.4,294.8 L103.6,296.0 L102.7,297.2 L101.8,298.5 L101.0,299.7 L100.1,300.9 L99.3,302.2 L98.4,303.4 L97.5,304.6 L96.7,305.9 L95.8,307.1 L95.0,308.3 L94.1,309.6 L93.3,310.8 L92.4,312.0 L91.6,313.3 L90.7,314.5 L89.8,315.8 L89.0,317.0Z" fill="#000000" stroke="none" clip-path="url(#clipA)"/>
<path d="M55.6,591.1 L56.8,591.9 L58.1,592.7 L59.4,593.5 L60.6,594.3 L61.9,595.2 L63.1,596.0 L64.3,596.9 L65.5,597.9 L66.6,598.8 L67.8,599.8 L68.9,600.8 L70.0,601.8 L71.1,602.8 L72.2,603.8 L73.2,604.9 L74.3,605.9 L75.3,607.0 L76.3,608.1 L77.3,609.2 L78.3,610.3 L79.3,611.5 L80.3,612.6 L81.3,613.8 L82.2,614.9 L83.1,616.1 L84.1,617.3 L85.0,618.5 L85.9,619.7 L86.8,620.9 L87.7,622.1 L88.6,623.4 L89.4,624.6 L90.3,625.8 L91.1,627.1 L92.0,628.3 L92.8,629.6 L93.6,630.8 L94.4,632.1 L95.2,633.4 L96.0,634.6 L96.8,635.9 L97.6,637.2 L98.4,638.5 L99.2,639.8 L99.9,641.1 L100.7,642.4 L101.5,643.7 L102.2,645.0 L102.9,646.3 L103.7,647.6 L104.4,649.0 L105.1,650.3 L105.9,651.6 L106.6,652.9 L107.3,654.3 L108.0,655.6 L108.7,657.0 L109.4,658.3 L110.1,659.6 L110.8,661.0 L111.5,662.3 L112.2,663.7 L112.9,665.0 L113.5,666.4 L114.2,667.7 L114.9,669.1 L115.6,670.4 L116.3,671.8 L117.0,673.1 L117.6,674.4 L118.3,675.8 L119.0,677.1 L119.7,678.5 L120.4,679.8 L121.1,681.2 L121.8,682.5 L122.5,683.9 L123.2,685.2 L123.9,686.6 L124.6,687.9 L125.3,689.3 L126.0,690.6 L126.7,692.0 L127.4,693.3 L128.1,694.6 L128.8,696.0 L129.6,697.3 L130.3,698.6 L131.0,699.9 L131.8,701.3 L132.5,702.6 L133.3,703.9 L134.0,705.2 L134.8,706.5 L135.6,707.8 L136.4,709.1 L137.2,710.4 L137.9,711.7 L138.7,713.0 L139.5,714.3 L140.4,715.6 L141.2,716.9 L142.0,718.1 L142.8,719.4 L143.6,720.7 L144.5,722.0 L145.3,723.2 L146.1,724.5 L147.0,725.8 L147.8,727.0 L148.7,728.3 L149.5,729.5 L150.4,730.8 L151.2,732.0 L152.1,733.3 L153.0,734.5 L153.8,735.7 L154.7,737.0 L155.6,738.2 L156.5,739.5 L157.3,740.7 L158.2,741.9 L159.1,743.2 L160.0,744.4 L160.9,745.6 L161.7,746.9 L162.6,748.1 L163.5,749.3 L164.4,750.6 L165.3,751.8 L166.1,753.0 L167.0,754.3 L167.9,755.5 L168.7,756.7 L169.6,758.0 L170.5,759.2 L171.4,760.4 L172.2,761.7 L173.1,762.9 L173.9,764.2 L174.8,765.4 L175.6,766.7 L176.5,767.9 L177.3,769.2 L178.2,770.4 L179.0,771.7 L179.8,772.9 L180.6,774.2 L181.5,775.5 L182.3,776.7 L183.1,778.0 L183.9,779.3 L184.7,780.6 L185.5,781.8 L186.3,783.1 L187.1,784.4 L187.9,785.7 L188.7,787.0 L189.5,788.3 L190.3,789.5 L191.1,790.8 L191.9,792.1 L192.7,793.4 L193.5,794.7 L194.3,796.0 L195.1,797.3 L195.9,798.6 L196.7,799.9 L197.4,801.1 L198.2,802.4 L199.0,803.7 L199.8,805.0 L200.6,806.3 L201.4,807.6 L202.2,808.9 L203.0,810.2 L203.8,811.5 L204.6,812.7 L206.4,811.6 L205.6,810.3 L204.8,809.1 L204.0,807.8 L203.2,806.5 L202.4,805.2 L201.6,803.9 L200.8,802.6 L200.0,801.3 L199.2,800.0 L198.4,798.8 L197.7,797.5 L196.9,796.2 L196.1,794.9 L195.3,793.6 L194.5,792.3 L193.7,791.0 L192.9,789.7 L192.1,788.4 L191.3,787.1 L190.5,785.9 L189.7,784.6 L188.9,783.3 L188.1,782.0 L187.3,780.7 L186.5,779.4 L185.7,778.2 L184.9,776.9 L184.0,775.6 L183.2,774.3 L182.4,773.1 L181.6,771.8 L180.7,770.5 L179.9,769.3 L179.1,768.0 L178.2,766.7 L177.4,765.5 L176.5,764.2 L175.7,763.0 L174.8,761.7 L173.9,760.5 L173.1,759.2 L172.2,758.0 L171.3,756.8 L170.5,755.5 L169.6,754.3 L168.7,753.0 L167.8,751.8 L167.0,750.6 L166.1,749.3 L165.2,748.1 L164.3,746.9 L163.4,745.6 L162.6,744.4 L161.7,743.2 L160.8,741.9 L159.9,740.7 L159.1,739.5 L158.2,738.3 L157.3,737.0 L156.4,735.8 L155.6,734.5 L154.7,733.3 L153.8,732.1 L153.0,730.8 L152.1,729.6 L151.3,728.3 L150.4,727.1 L149.6,725.8 L148.7,724.6 L147.9,723.3 L147.0,722.1 L146.2,720.8 L145.4,719.6 L144.6,718.3 L143.7,717.0 L142.9,715.7 L142.1,714.5 L141.3,713.2 L140.5,711.9 L139.7,710.6 L139.0,709.3 L138.2,708.0 L137.4,706.8 L136.6,705.5 L135.9,704.2 L135.1,702.8 L134.3,701.5 L133.6,700.2 L132.9,698.9 L132.1,697.6 L131.4,696.3 L130.7,695.0 L130.0,693.6 L129.2,692.3 L128.5,691.0 L127.8,689.6 L127.1,688.3 L126.4,687.0 L125.7,685.6 L125.0,684.3 L124.3,682.9 L123.6,681.6 L122.9,680.2 L122.3,678.9 L121.6,677.5 L120.9,676.2 L120.2,674.8 L119.5,673.5 L118.8,672.2 L118.2,670.8 L117.5,669.5 L116.8,668.1 L116.1,666.8 L115.4,665.4 L114.7,664.1 L114.0,662.7 L113.3,661.4 L112.6,660.0 L111.9,658.7 L111.3,657.3 L110.5,656.0 L109.8,654.6 L109.1,653.3 L108.4,652.0 L107.7,650.6 L107.0,649.3 L106.3,648.0 L105.5,646.6 L104.8,645.3 L104.0,644.0 L103.3,642.7 L102.5,641.3 L101.8,640.0 L101.0,638.7 L100.2,637.4 L99.4,636.1 L98.6,634.8 L97.8,633.5 L97.0,632.2 L96.2,631.0 L95.4,629.7 L94.6,628.4 L93.7,627.1 L92.9,625.9 L92.0,624.6 L91.1,623.4 L90.3,622.1 L89.4,620.9 L88.5,619.7 L87.6,618.4 L86.7,617.2 L85.7,616.0 L84.8,614.8 L83.8,613.6 L82.9,612.4 L81.9,611.3 L80.9,610.1 L79.9,609.0 L78.9,607.8 L77.9,606.7 L76.8,605.6 L75.8,604.5 L74.7,603.4 L73.6,602.3 L72.5,601.2 L71.4,600.2 L70.3,599.2 L69.1,598.2 L67.9,597.2 L66.8,596.2 L65.6,595.3 L64.3,594.4 L63.1,593.5 L61.8,592.6 L60.5,591.8 L59.3,590.9 L58.0,590.1 L56.7,589.3Z" fill="#969696" stroke="none" clip-path="url(#clipB)"/>
<path d="M206.6,552.4 L207.4,553.7 L208.2,555.0 L209.1,556.2 L209.9,557.5 L210.7,558.8 L211.6,560.0 L212.4,561.3 L213.3,562.6 L214.1,563.8 L215.0,565.1 L215.8,566.3 L216.7,567.6 L217.6,568.8 L218.5,570.1 L219.3,571.3 L220.2,572.5 L221.1,573.8 L222.0,575.0 L222.9,576.2 L223.8,577.4 L224.7,578.6 L225.7,579.9 L226.6,581.1 L227.5,582.3 L228.5,583.5 L229.4,584.6 L230.4,585.8 L231.3,587.0 L232.3,588.2 L233.2,589.4 L234.2,590.5 L235.2,591.7 L236.2,592.9 L237.2,594.0 L238.2,595.2 L239.2,596.3 L240.2,597.4 L241.2,598.6 L242.2,599.7 L243.3,600.8 L244.3,601.9 L245.3,603.0 L246.4,604.1 L247.4,605.2 L248.5,606.3 L249.6,607.4 L250.7,608.5 L251.7,609.5 L252.8,610.6 L253.9,611.7 L255.0,612.7 L256.1,613.7 L257.3,614.8 L258.4,615.8 L259.5,616.8 L260.7,617.8 L261.8,618.8 L263.0,619.8 L264.1,620.8 L265.3,621.8 L266.5,622.8 L267.7,623.7 L268.8,624.7 L270.0,625.6 L271.2,626.5 L272.5,627.5 L273.7,628.4 L274.9,629.3 L276.1,630.2 L277.4,631.1 L278.6,631.9 L279.9,632.8 L281.1,633.7 L282.4,634.5 L283.7,635.4 L284.9,636.2 L286.2,637.0 L287.5,637.8 L288.8,638.6 L290.1,639.4 L291.4,640.2 L292.8,640.9 L294.1,641.7 L295.4,642.4 L296.8,643.1 L298.1,643.9 L299.4,644.6 L300.8,645.3 L302.2,646.0 L303.5,646.6 L304.9,647.3 L306.3,647.9 L307.7,648.6 L309.0,649.2 L310.4,649.8 L311.8,650.4 L313.2,651.0 L314.6,651.6 L316.1,652.2 L317.5,652.8 L318.9,653.3 L320.3,653.9 L321.7,654.4 L323.2,654.9 L324.6,655.4 L326.1,655.9 L327.5,656.4 L328.9,656.9 L330.4,657.3 L331.8,657.8 L333.3,658.2 L334.8,658.7 L336.2,659.1 L337.7,659.5 L339.1,659.9 L340.6,660.3 L342.1,660.7 L343.6,661.1 L345.0,661.5 L346.5,661.8 L348.0,662.2 L349.5,662.5 L351.0,662.9 L352.4,663.2 L353.9,663.5 L355.4,663.8 L356.9,664.1 L358.4,664.4 L359.9,664.7 L361.4,665.0 L362.9,665.3 L364.4,665.6 L365.9,665.8 L367.4,666.1 L368.9,666.4 L370.4,666.6 L371.8,666.9 L373.3,667.1 L374.8,667.4 L376.3,667.6 L377.8,667.8 L379.3,668.1 L380.8,668.3 L382.3,668.5 L383.8,668.7 L385.3,668.9 L386.8,669.2 L388.4,669.4 L389.9,669.6 L391.4,669.8 L392.9,670.0 L394.4,670.2 L395.9,670.4 L397.4,670.6 L398.9,670.8 L400.4,671.0 L401.9,671.3 L403.4,671.5 L404.9,671.7 L406.4,671.9 L407.9,672.1 L409.4,672.3 L410.9,672.5 L412.4,672.7 L413.9,673.0 L415.3,673.2 L416.8,673.4 L418.3,673.6 L419.8,673.9 L421.3,674.1 L422.8,674.4 L424.3,674.6 L425.8,674.9 L427.3,675.1 L428.8,675.4 L430.3,675.6 L431.8,675.9 L433.3,676.2 L433.6,674.1 L432.1,673.8 L430.6,673.6 L429.1,673.3 L427.6,673.0 L426.2,672.8 L424.7,672.5 L423.2,672.3 L421.7,672.0 L420.2,671.8 L418.7,671.6 L417.2,671.3 L415.7,671.1 L414.2,670.9 L412.7,670.7 L411.2,670.4 L409.7,670.2 L408.2,670.0 L406.7,669.8 L405.2,669.6 L403.7,669.4 L402.1,669.2 L400.6,669.0 L399.1,668.8 L397.6,668.5 L396.1,668.3 L394.6,668.1 L393.1,667.9 L391.6,667.7 L390.1,667.5 L388.6,667.3 L387.1,667.1 L385.6,666.9 L384.2,666.6 L382.7,666.4 L381.2,666.2 L379.7,666.0 L378.2,665.7 L376.7,665.5 L375.2,665.3 L373.7,665.0 L372.2,664.8 L370.7,664.5 L369.2,664.3 L367.7,664.0 L366.2,663.8 L364.7,663.5 L363.3,663.2 L361.8,663.0 L360.3,662.7 L358.8,662.4 L357.3,662.1 L355.8,661.8 L354.4,661.5 L352.9,661.1 L351.4,660.8 L349.9,660.5 L348.5,660.1 L347.0,659.8 L345.5,659.4 L344.1,659.1 L342.6,658.7 L341.2,658.3 L339.7,657.9 L338.3,657.5 L336.8,657.1 L335.4,656.7 L333.9,656.2 L332.5,655.8 L331.0,655.3 L329.6,654.9 L328.2,654.4 L326.7,653.9 L325.3,653.4 L323.9,652.9 L322.5,652.4 L321.1,651.9 L319.6,651.4 L318.2,650.8 L316.8,650.2 L315.4,649.7 L314.1,649.1 L312.7,648.5 L311.3,647.9 L309.9,647.3 L308.5,646.7 L307.2,646.0 L305.8,645.4 L304.4,644.7 L303.1,644.1 L301.8,643.4 L300.4,642.7 L299.1,642.0 L297.8,641.3 L296.4,640.6 L295.1,639.8 L293.8,639.1 L292.5,638.3 L291.2,637.6 L289.9,636.8 L288.6,636.0 L287.3,635.2 L286.1,634.4 L284.8,633.6 L283.5,632.8 L282.3,631.9 L281.1,631.1 L279.8,630.2 L278.6,629.4 L277.4,628.5 L276.1,627.6 L274.9,626.7 L273.7,625.8 L272.5,624.9 L271.3,624.0 L270.1,623.0 L269.0,622.1 L267.8,621.1 L266.6,620.2 L265.5,619.2 L264.3,618.2 L263.2,617.2 L262.1,616.2 L260.9,615.2 L259.8,614.2 L258.7,613.2 L257.6,612.2 L256.5,611.2 L255.4,610.1 L254.3,609.1 L253.2,608.0 L252.1,607.0 L251.1,605.9 L250.0,604.8 L249.0,603.8 L247.9,602.7 L246.9,601.6 L245.8,600.5 L244.8,599.4 L243.8,598.3 L242.8,597.2 L241.8,596.0 L240.7,594.9 L239.8,593.8 L238.8,592.6 L237.8,591.5 L236.8,590.3 L235.8,589.2 L234.9,588.0 L233.9,586.9 L232.9,585.7 L232.0,584.5 L231.1,583.3 L230.1,582.2 L229.2,581.0 L228.3,579.8 L227.3,578.6 L226.4,577.4 L225.5,576.2 L224.6,575.0 L223.7,573.7 L222.8,572.5 L221.9,571.3 L221.0,570.1 L220.2,568.9 L219.3,567.6 L218.4,566.4 L217.6,565.1 L216.7,563.9 L215.8,562.6 L215.0,561.4 L214.2,560.1 L213.3,558.9 L212.5,557.6 L211.7,556.4 L210.8,555.1 L210.0,553.8 L209.2,552.6 L208.4,551.3Z" fill="#969696" stroke="none" clip-path="url(#clipB)"/>
<rect x="206" y="551" width="2" height="262" fill="#969696"/>
<path d="M58.8,694.1 L59.6,692.8 L60.4,691.6 L61.2,690.3 L62.0,689.0 L62.8,687.7 L63.6,686.4 L64.4,685.2 L65.2,683.9 L66.0,682.6 L66.8,681.4 L67.7,680.1 L68.5,678.8 L69.3,677.6 L70.2,676.3 L71.0,675.1 L71.8,673.8 L72.7,672.6 L73.5,671.3 L74.4,670.1 L75.2,668.8 L76.1,667.5 L76.9,666.3 L77.7,665.0 L78.6,663.8 L79.4,662.5 L80.3,661.3 L81.1,660.0 L82.0,658.7 L82.8,657.5 L83.6,656.2 L84.4,654.9 L85.3,653.6 L86.1,652.4 L86.9,651.1 L87.7,649.8 L88.5,648.5 L89.3,647.2 L90.1,645.9 L90.9,644.7 L91.7,643.4 L92.5,642.1 L93.3,640.8 L94.1,639.5 L94.8,638.2 L95.6,636.9 L96.4,635.7 L97.2,634.4 L98.0,633.1 L98.8,631.8 L99.6,630.5 L100.4,629.3 L101.3,628.0 L102.1,626.7 L102.9,625.5 L103.7,624.2 L104.6,623.0 L105.4,621.8 L106.3,620.6 L107.2,619.4 L108.1,618.3 L109.0,617.2 L110.0,616.2 L111.1,615.3 L112.1,614.5 L113.3,613.8 L114.4,613.4 L115.7,613.2 L117.0,613.1 L118.3,613.3 L119.6,613.6 L120.9,614.1 L122.2,614.6 L123.5,615.3 L124.8,615.9 L126.0,616.7 L127.3,617.4 L128.5,618.2 L129.7,619.1 L131.0,619.9 L132.2,620.8 L133.4,621.7 L134.5,622.6 L135.7,623.5 L136.9,624.5 L138.1,625.4 L139.3,626.4 L140.5,627.3 L141.6,628.2 L142.8,629.2 L144.0,630.1 L145.2,631.1 L146.5,632.0 L147.7,632.9 L149.0,633.8 L150.2,634.6 L151.5,635.5 L152.7,636.3 L154.0,637.2 L155.3,638.0 L156.6,638.8 L157.9,639.6 L159.1,640.4 L160.4,641.2 L161.7,642.0 L163.0,642.8 L164.3,643.6 L165.6,644.4 L166.8,645.2 L168.1,646.0 L169.4,646.8 L170.6,647.6 L171.9,648.5 L173.1,649.3 L174.4,650.1 L175.6,651.0 L176.8,651.9 L178.0,652.7 L179.2,653.6 L180.4,654.6 L181.6,655.5 L182.7,656.4 L183.9,657.4 L185.0,658.4 L186.1,659.3 L187.2,660.4 L188.3,661.4 L189.3,662.4 L190.4,663.5 L191.4,664.5 L192.4,665.6 L193.5,666.7 L194.4,667.8 L195.4,669.0 L196.4,670.1 L197.3,671.3 L198.3,672.4 L199.2,673.6 L200.1,674.8 L201.0,676.0 L201.9,677.2 L202.8,678.4 L203.6,679.6 L204.5,680.9 L205.4,682.1 L206.2,683.3 L207.1,684.6 L207.9,685.8 L208.7,687.1 L209.5,688.3 L210.3,689.6 L211.1,690.9 L211.9,692.2 L212.7,693.4 L213.5,694.7 L214.3,696.0 L215.1,697.3 L215.8,698.6 L216.6,699.9 L217.4,701.2 L218.1,702.5 L218.9,703.8 L219.6,705.1 L220.4,706.4 L221.1,707.7 L221.8,709.0 L222.6,710.4 L223.3,711.7 L224.0,713.0 L224.7,714.3 L225.4,715.7 L226.1,717.0 L226.9,718.3 L227.6,719.7 L228.3,721.0 L229.0,722.3 L229.7,723.7 L230.4,725.0 L231.0,726.3 L231.7,727.7 L232.4,729.0 L233.1,730.4 L233.8,731.7 L234.4,733.1 L235.1,734.4 L235.8,735.8 L236.4,737.1 L237.1,738.5 L237.8,739.8 L238.4,741.2 L239.1,742.6 L239.7,743.9 L240.4,745.3 L241.0,746.6 L241.7,748.0 L242.3,749.4 L243.0,750.7 L243.6,752.1 L244.2,753.5 L244.9,754.8 L245.5,756.2 L246.1,757.6 L246.7,759.0 L247.4,760.3 L248.0,761.7 L248.6,763.1 L249.2,764.5 L249.8,765.8 L250.4,767.2 L251.1,768.6 L251.7,770.0 L252.3,771.4 L252.9,772.8 L253.5,774.1 L254.1,775.5 L254.7,776.9 L255.3,778.3 L255.9,779.7 L256.4,781.1 L257.0,782.5 L257.6,783.9 L258.2,785.3 L258.8,786.6 L259.4,788.0 L259.9,789.4 L260.5,790.8 L261.1,792.2 L261.7,793.6 L262.3,795.0 L262.8,796.4 L263.4,797.8 L264.0,799.2 L264.6,800.6 L265.2,802.0 L265.7,803.4 L266.3,804.8 L266.9,806.2 L267.5,807.6 L268.1,809.0 L268.7,810.4 L269.3,811.8 L269.9,813.2 L270.5,814.6 L271.1,815.9 L271.7,817.3 L272.3,818.7 L273.0,820.1 L273.6,821.5 L274.2,822.8 L274.8,824.2 L277.7,823.0 L277.0,821.6 L276.4,820.2 L275.8,818.8 L275.2,817.4 L274.6,816.1 L273.9,814.7 L273.3,813.3 L272.7,811.9 L272.1,810.5 L271.5,809.2 L270.9,807.8 L270.4,806.4 L269.8,805.0 L269.2,803.6 L268.6,802.2 L268.0,800.8 L267.4,799.4 L266.9,798.0 L266.3,796.6 L265.7,795.2 L265.1,793.8 L264.5,792.4 L264.0,791.0 L263.4,789.6 L262.8,788.2 L262.2,786.8 L261.6,785.5 L261.1,784.1 L260.5,782.7 L259.9,781.3 L259.3,779.9 L258.7,778.5 L258.1,777.1 L257.5,775.7 L256.9,774.3 L256.3,772.9 L255.7,771.5 L255.1,770.1 L254.5,768.7 L253.9,767.4 L253.3,766.0 L252.7,764.6 L252.1,763.2 L251.4,761.8 L250.8,760.4 L250.2,759.1 L249.6,757.7 L248.9,756.3 L248.3,754.9 L247.7,753.6 L247.0,752.2 L246.4,750.8 L245.8,749.4 L245.1,748.1 L244.5,746.7 L243.8,745.3 L243.2,743.9 L242.5,742.6 L241.9,741.2 L241.2,739.9 L240.6,738.5 L239.9,737.1 L239.2,735.8 L238.6,734.4 L237.9,733.0 L237.2,731.7 L236.5,730.3 L235.9,729.0 L235.2,727.6 L234.5,726.3 L233.8,724.9 L233.1,723.6 L232.4,722.2 L231.7,720.9 L231.0,719.5 L230.3,718.2 L229.6,716.9 L228.9,715.5 L228.2,714.2 L227.4,712.9 L226.7,711.5 L226.0,710.2 L225.3,708.9 L224.5,707.5 L223.8,706.2 L223.1,704.9 L222.3,703.6 L221.6,702.3 L220.8,700.9 L220.0,699.6 L219.3,698.3 L218.5,697.0 L217.7,695.7 L216.9,694.4 L216.2,693.1 L215.4,691.8 L214.6,690.5 L213.8,689.2 L213.0,687.9 L212.1,686.7 L211.3,685.4 L210.5,684.1 L209.6,682.8 L208.8,681.6 L207.9,680.3 L207.1,679.1 L206.2,677.8 L205.3,676.6 L204.4,675.4 L203.5,674.1 L202.6,672.9 L201.6,671.7 L200.7,670.5 L199.7,669.3 L198.8,668.1 L197.8,667.0 L196.8,665.8 L195.8,664.7 L194.7,663.5 L193.7,662.4 L192.6,661.3 L191.5,660.2 L190.4,659.1 L189.3,658.1 L188.2,657.0 L187.0,656.0 L185.9,655.0 L184.7,654.0 L183.5,653.1 L182.3,652.1 L181.1,651.2 L179.9,650.3 L178.6,649.3 L177.4,648.5 L176.1,647.6 L174.9,646.7 L173.6,645.9 L172.3,645.0 L171.1,644.2 L169.8,643.4 L168.5,642.6 L167.2,641.8 L165.9,641.0 L164.6,640.2 L163.3,639.4 L162.1,638.6 L160.8,637.8 L159.5,637.0 L158.2,636.2 L157.0,635.4 L155.7,634.6 L154.4,633.8 L153.2,632.9 L152.0,632.1 L150.7,631.2 L149.5,630.4 L148.3,629.5 L147.1,628.6 L145.9,627.7 L144.7,626.7 L143.6,625.8 L142.4,624.9 L141.2,623.9 L140.0,623.0 L138.8,622.0 L137.6,621.1 L136.4,620.2 L135.2,619.2 L134.0,618.3 L132.8,617.4 L131.5,616.5 L130.2,615.7 L128.9,614.8 L127.6,614.0 L126.3,613.2 L124.9,612.5 L123.4,611.8 L122.0,611.2 L120.4,610.7 L118.8,610.3 L117.1,610.0 L115.4,610.1 L113.6,610.4 L112.0,611.0 L110.5,611.8 L109.1,612.8 L107.9,613.9 L106.8,615.1 L105.7,616.3 L104.7,617.5 L103.8,618.7 L102.9,620.0 L102.0,621.2 L101.2,622.5 L100.3,623.8 L99.5,625.0 L98.7,626.3 L97.8,627.6 L97.0,628.9 L96.2,630.2 L95.4,631.4 L94.6,632.7 L93.8,634.0 L93.0,635.3 L92.2,636.6 L91.4,637.9 L90.6,639.2 L89.8,640.5 L89.0,641.7 L88.2,643.0 L87.4,644.3 L86.7,645.6 L85.9,646.9 L85.1,648.2 L84.3,649.4 L83.5,650.7 L82.6,652.0 L81.8,653.2 L81.0,654.5 L80.2,655.8 L79.4,657.0 L78.5,658.3 L77.7,659.5 L76.9,660.8 L76.0,662.1 L75.2,663.3 L74.3,664.6 L73.5,665.8 L72.6,667.1 L71.8,668.3 L70.9,669.6 L70.1,670.8 L69.3,672.1 L68.4,673.3 L67.6,674.6 L66.7,675.9 L65.9,677.1 L65.1,678.4 L64.2,679.7 L63.4,680.9 L62.6,682.2 L61.8,683.5 L61.0,684.8 L60.2,686.1 L59.4,687.3 L58.6,688.6 L57.8,689.9 L57.0,691.2 L56.2,692.5Z" fill="#800080" stroke="none" clip-path="url(#clipB)"/>
<path d="M531.1,643.7 L532.5,643.1 L533.9,642.6 L535.3,642.0 L536.7,641.5 L538.1,641.1 L539.4,640.7 L540.8,640.5 L542.2,640.5 L543.6,640.7 L544.9,641.1 L546.1,641.6 L547.3,642.4 L548.4,643.3 L549.4,644.3 L550.3,645.4 L551.1,646.5 L551.9,647.8 L552.6,649.1 L553.2,650.4 L553.8,651.7 L554.4,653.1 L554.9,654.5 L555.4,655.9 L555.9,657.3 L556.4,658.7 L556.8,660.1 L557.2,661.6 L557.6,663.0 L558.0,664.4 L558.4,665.9 L558.8,667.3 L559.1,668.8 L559.5,670.3 L559.9,671.7 L560.2,673.2 L560.6,674.6 L561.0,676.1 L561.4,677.6 L561.8,679.0 L562.2,680.5 L562.6,681.9 L563.0,683.4 L563.5,684.8 L564.0,686.3 L564.5,687.7 L565.1,689.2 L565.8,690.6 L566.6,691.9 L567.5,693.2 L568.6,694.4 L569.8,695.5 L571.2,696.4 L572.8,697.0 L574.5,697.2 L576.2,697.1 L577.8,696.7 L579.3,696.1 L580.7,695.4 L582.0,694.6 L583.3,693.7 L584.6,692.8 L585.8,691.8 L586.9,690.8 L588.1,689.8 L589.2,688.8 L590.3,687.7 L591.3,686.6 L592.4,685.5 L593.4,684.4 L594.4,683.3 L595.5,682.2 L596.5,681.1 L597.5,680.0 L598.5,678.9 L599.6,677.8 L600.6,676.7 L601.7,675.7 L602.7,674.6 L603.8,673.6 L604.9,672.6 L606.0,671.5 L607.1,670.5 L608.2,669.5 L609.3,668.5 L610.4,667.5 L611.6,666.5 L612.7,665.6 L613.8,664.6 L615.0,663.5 L616.1,662.5 L617.2,661.5 L618.3,660.5 L619.4,659.5 L620.6,658.5 L621.7,657.6 L622.8,656.6 L624.0,655.6 L625.1,654.7 L626.3,653.8 L627.5,652.9 L628.7,652.1 L630.0,651.3 L631.2,650.5 L632.5,649.8 L633.8,649.2 L635.2,648.7 L636.5,648.2 L637.9,647.9 L639.3,647.7 L640.7,647.7 L642.1,647.8 L643.4,648.1 L644.7,648.6 L645.9,649.3 L647.0,650.1 L648.0,651.1 L648.9,652.2 L649.8,653.3 L650.6,654.5 L651.3,655.8 L652.0,657.1 L652.6,658.4 L653.2,659.8 L653.8,661.1 L654.3,662.5 L654.9,663.9 L655.4,665.3 L655.8,666.7 L656.3,668.2 L656.8,669.6 L657.2,671.0 L657.6,672.5 L658.0,673.9 L658.4,675.3 L658.8,676.8 L659.2,678.2 L659.6,679.7 L660.0,681.1 L660.4,682.6 L660.8,684.1 L661.2,685.5 L661.6,687.0 L662.0,688.4 L662.4,689.9 L662.8,691.3 L663.2,692.8 L663.6,694.2 L664.1,695.7 L664.5,697.1 L665.0,698.6 L665.6,700.0 L666.1,701.4 L666.8,702.9 L667.5,704.3 L668.4,705.6 L669.4,706.9 L670.7,707.9 L672.1,708.8 L673.6,709.4 L675.1,709.9 L676.6,710.2 L678.2,710.5 L679.7,710.7 L681.3,710.7 L682.9,710.6 L684.4,710.5 L686.0,710.3 L687.5,710.0 L689.0,709.6 L690.4,709.2 L691.9,708.8 L693.4,708.3 L694.8,707.8 L696.2,707.3 L697.6,706.8 L699.1,706.2 L700.5,705.7 L701.9,705.1 L703.3,704.6 L704.7,704.0 L706.1,703.4 L707.5,702.8 L708.8,702.2 L710.2,701.7 L711.6,701.1 L713.0,700.5 L714.4,699.9 L715.8,699.3 L717.2,698.7 L718.5,698.1 L719.9,697.5 L721.3,696.9 L722.7,696.4 L724.1,695.8 L725.5,695.2 L726.9,694.6 L728.3,694.1 L729.6,693.5 L731.0,692.9 L732.4,692.4 L733.8,691.8 L735.2,691.3 L736.6,690.7 L738.0,690.1 L739.4,689.6 L740.8,689.1 L742.2,688.5 L743.6,688.0 L745.0,687.4 L746.4,686.9 L747.8,686.3 L749.2,685.8 L750.6,685.3 L752.1,684.8 L753.5,684.2 L754.9,683.7 L756.3,683.2 L757.7,682.6 L759.1,682.1 L760.5,681.6 L761.9,681.1 L763.3,680.6 L764.7,680.0 L766.2,679.5 L767.6,679.0 L769.0,678.5 L770.4,678.0 L771.8,677.5 L773.2,677.0 L774.6,676.5 L776.1,675.9 L777.5,675.4 L778.9,674.9 L780.3,674.4 L781.7,673.9 L783.1,673.4 L784.6,672.9 L786.0,672.4 L787.4,671.9 L788.8,671.4 L790.2,670.9 L791.7,670.4 L793.1,669.9 L794.5,669.4 L795.9,668.9 L797.3,668.3 L798.7,667.8 L800.2,667.3 L801.6,666.8 L803.0,666.3 L804.4,665.8 L805.8,665.3 L807.3,664.8 L808.7,664.3 L810.1,663.8 L811.5,663.3 L812.9,662.9 L814.4,662.4 L815.8,661.9 L817.2,661.4 L818.6,660.9 L820.0,660.4 L821.5,659.9 L822.9,659.4 L824.3,658.9 L825.7,658.4 L827.2,657.9 L828.6,657.5 L830.0,657.0 L831.4,656.5 L832.9,656.0 L834.3,655.5 L835.7,655.0 L837.1,654.6 L838.6,654.1 L840.0,653.6 L841.4,653.1 L842.8,652.7 L844.3,652.2 L845.7,651.7 L847.1,651.3 L848.6,650.8 L850.0,650.3 L851.4,649.9 L852.8,649.4 L854.3,648.9 L855.7,648.5 L857.1,648.0 L858.6,647.6 L860.0,647.1 L861.4,646.6 L862.9,646.2 L864.3,645.7 L865.7,645.3 L867.2,644.8 L868.6,644.4 L870.1,643.9 L871.5,643.5 L872.9,643.0 L874.4,642.6 L875.8,642.2 L877.2,641.7 L878.7,641.3 L880.1,640.9 L881.6,640.4 L883.0,640.0 L884.4,639.6 L885.9,639.1 L887.3,638.7 L888.8,638.3 L890.2,637.8 L891.7,637.4 L893.1,637.0 L894.5,636.6 L896.0,636.1 L897.4,635.7 L898.9,635.3 L900.3,634.9 L901.8,634.5 L903.2,634.1 L904.7,633.7 L906.1,633.3 L907.6,632.8 L909.0,632.4 L910.5,632.0 L911.9,631.6 L913.4,631.2 L914.8,630.8 L916.3,630.4 L917.7,630.0 L919.2,629.6 L920.6,629.2 L920.1,627.4 L918.7,627.8 L917.2,628.2 L915.8,628.6 L914.3,629.0 L912.8,629.4 L911.4,629.8 L909.9,630.2 L908.5,630.6 L907.0,631.0 L905.6,631.4 L904.1,631.8 L902.7,632.2 L901.2,632.7 L899.8,633.1 L898.4,633.5 L896.9,633.9 L895.5,634.3 L894.0,634.7 L892.6,635.2 L891.1,635.6 L889.7,636.0 L888.2,636.4 L886.8,636.9 L885.3,637.3 L883.9,637.7 L882.5,638.2 L881.0,638.6 L879.6,639.0 L878.1,639.5 L876.7,639.9 L875.2,640.3 L873.8,640.8 L872.4,641.2 L870.9,641.7 L869.5,642.1 L868.1,642.6 L866.6,643.0 L865.2,643.5 L863.7,643.9 L862.3,644.4 L860.9,644.8 L859.4,645.3 L858.0,645.7 L856.6,646.2 L855.1,646.7 L853.7,647.1 L852.3,647.6 L850.8,648.0 L849.4,648.5 L848.0,649.0 L846.5,649.4 L845.1,649.9 L843.7,650.4 L842.2,650.9 L840.8,651.3 L839.4,651.8 L838.0,652.3 L836.5,652.8 L835.1,653.2 L833.7,653.7 L832.2,654.2 L830.8,654.7 L829.4,655.2 L828.0,655.7 L826.5,656.1 L825.1,656.6 L823.7,657.1 L822.3,657.6 L820.8,658.1 L819.4,658.6 L818.0,659.1 L816.6,659.6 L815.2,660.1 L813.7,660.6 L812.3,661.1 L810.9,661.6 L809.5,662.1 L808.0,662.6 L806.6,663.0 L805.2,663.5 L803.8,664.0 L802.4,664.5 L800.9,665.1 L799.5,665.6 L798.1,666.1 L796.7,666.6 L795.3,667.1 L793.8,667.6 L792.4,668.1 L791.0,668.6 L789.6,669.1 L788.2,669.6 L786.8,670.1 L785.3,670.6 L783.9,671.1 L782.5,671.6 L781.1,672.1 L779.7,672.6 L778.3,673.1 L776.8,673.6 L775.4,674.2 L774.0,674.7 L772.6,675.2 L771.2,675.7 L769.8,676.2 L768.3,676.7 L766.9,677.2 L765.5,677.7 L764.1,678.3 L762.7,678.8 L761.3,679.3 L759.9,679.8 L758.4,680.3 L757.0,680.9 L755.6,681.4 L754.2,681.9 L752.8,682.4 L751.4,683.0 L750.0,683.5 L748.6,684.0 L747.2,684.6 L745.8,685.1 L744.3,685.6 L742.9,686.2 L741.5,686.7 L740.1,687.3 L738.7,687.8 L737.3,688.4 L735.9,688.9 L734.5,689.5 L733.1,690.0 L731.7,690.6 L730.3,691.2 L728.9,691.7 L727.5,692.3 L726.1,692.9 L724.7,693.4 L723.4,694.0 L722.0,694.6 L720.6,695.2 L719.2,695.8 L717.8,696.4 L716.4,697.0 L715.0,697.5 L713.6,698.1 L712.3,698.7 L710.9,699.3 L709.5,699.9 L708.1,700.5 L706.7,701.1 L705.3,701.7 L703.9,702.2 L702.6,702.8 L701.2,703.4 L699.8,703.9 L698.4,704.5 L697.0,705.0 L695.6,705.5 L694.2,706.0 L692.8,706.5 L691.3,707.0 L689.9,707.4 L688.5,707.8 L687.1,708.1 L685.6,708.4 L684.2,708.6 L682.7,708.7 L681.3,708.8 L679.9,708.8 L678.4,708.6 L677.0,708.4 L675.6,708.0 L674.3,707.6 L673.0,707.1 L671.8,706.4 L670.7,705.5 L669.9,704.5 L669.1,703.3 L668.5,702.0 L667.9,700.7 L667.3,699.3 L666.8,697.9 L666.3,696.5 L665.9,695.1 L665.4,693.7 L665.0,692.2 L664.6,690.8 L664.2,689.4 L663.8,687.9 L663.4,686.5 L663.0,685.0 L662.6,683.6 L662.2,682.1 L661.9,680.7 L661.5,679.2 L661.1,677.7 L660.7,676.3 L660.3,674.8 L659.9,673.4 L659.4,671.9 L659.0,670.5 L658.6,669.0 L658.1,667.6 L657.6,666.1 L657.2,664.7 L656.6,663.3 L656.1,661.9 L655.6,660.4 L655.0,659.0 L654.4,657.6 L653.7,656.2 L653.0,654.9 L652.2,653.5 L651.4,652.2 L650.4,651.0 L649.4,649.8 L648.2,648.6 L646.9,647.7 L645.5,646.9 L644.0,646.3 L642.4,645.9 L640.8,645.8 L639.2,645.8 L637.6,646.1 L636.0,646.4 L634.5,646.9 L633.1,647.5 L631.7,648.1 L630.3,648.9 L629.0,649.7 L627.7,650.5 L626.4,651.4 L625.2,652.3 L624.0,653.2 L622.8,654.2 L621.6,655.1 L620.5,656.1 L619.3,657.1 L618.2,658.1 L617.1,659.1 L615.9,660.1 L614.8,661.1 L613.7,662.1 L612.6,663.1 L611.5,664.1 L610.3,665.1 L609.2,666.1 L608.1,667.1 L606.9,668.1 L605.8,669.1 L604.7,670.1 L603.6,671.2 L602.5,672.2 L601.4,673.3 L600.3,674.3 L599.3,675.4 L598.2,676.5 L597.2,677.6 L596.1,678.7 L595.1,679.8 L594.1,680.9 L593.1,682.0 L592.0,683.1 L591.0,684.2 L590.0,685.3 L588.9,686.3 L587.9,687.4 L586.8,688.4 L585.7,689.4 L584.6,690.4 L583.4,691.3 L582.2,692.2 L581.0,693.0 L579.8,693.7 L578.5,694.4 L577.2,694.9 L575.9,695.2 L574.6,695.3 L573.3,695.2 L572.1,694.7 L570.9,694.0 L569.9,693.1 L569.0,692.0 L568.2,690.9 L567.5,689.7 L566.8,688.4 L566.3,687.0 L565.8,685.6 L565.3,684.2 L564.8,682.8 L564.4,681.4 L564.0,680.0 L563.6,678.5 L563.2,677.1 L562.8,675.6 L562.4,674.2 L562.1,672.7 L561.7,671.3 L561.3,669.8 L561.0,668.3 L560.6,666.9 L560.2,665.4 L559.8,664.0 L559.4,662.5 L559.0,661.0 L558.6,659.6 L558.2,658.1 L557.7,656.7 L557.2,655.2 L556.7,653.8 L556.2,652.4 L555.6,651.0 L554.9,649.6 L554.3,648.2 L553.5,646.8 L552.7,645.5 L551.8,644.2 L550.8,643.0 L549.6,641.9 L548.4,640.8 L547.0,640.0 L545.5,639.3 L544.0,638.8 L542.3,638.6 L540.7,638.7 L539.1,638.9 L537.6,639.2 L536.1,639.7 L534.6,640.3 L533.2,640.8 L531.8,641.4 L530.4,641.9Z" fill="#969696" stroke="none" clip-path="url(#clipC)"/>
<path d="M534.7,733.9 L535.2,732.5 L535.7,731.0 L536.1,729.6 L536.6,728.2 L537.1,726.7 L537.5,725.3 L538.0,723.8 L538.4,722.4 L538.9,721.0 L539.3,719.5 L539.7,718.1 L540.2,716.6 L540.6,715.2 L541.0,713.7 L541.4,712.3 L541.9,710.8 L542.3,709.4 L542.7,707.9 L543.1,706.5 L543.5,705.0 L543.9,703.6 L544.3,702.1 L544.7,700.7 L545.1,699.2 L545.4,697.7 L545.8,696.3 L546.1,694.8 L546.5,693.3 L546.8,691.8 L547.1,690.4 L547.5,688.9 L547.8,687.4 L548.1,685.9 L548.4,684.5 L548.7,683.0 L549.0,681.5 L549.3,680.0 L549.6,678.6 L549.9,677.1 L550.2,675.6 L550.5,674.1 L550.7,672.6 L551.0,671.1 L551.3,669.7 L551.5,668.2 L551.8,666.7 L552.1,665.2 L552.3,663.7 L552.5,662.2 L552.8,660.7 L553.0,659.2 L553.2,657.7 L553.4,656.2 L553.7,654.7 L553.9,653.3 L554.1,651.8 L554.2,650.3 L554.4,648.8 L554.6,647.3 L554.8,645.8 L555.0,644.3 L555.2,642.8 L555.4,641.3 L555.5,639.8 L555.7,638.3 L555.9,636.8 L556.1,635.3 L556.3,633.9 L556.5,632.4 L556.7,630.9 L556.9,629.4 L557.1,627.9 L557.3,626.4 L557.5,624.9 L557.7,623.4 L557.9,621.9 L558.0,620.4 L558.3,619.0 L558.5,617.5 L558.7,616.0 L559.0,614.6 L559.3,613.2 L559.7,611.8 L560.0,610.4 L560.2,609.6 L559.9,608.9 L559.7,609.6 L559.9,610.4 L560.3,611.7 L560.6,613.1 L560.9,614.5 L561.2,616.0 L561.4,617.4 L561.7,618.9 L561.9,620.4 L562.0,621.9 L562.2,623.3 L562.4,624.8 L562.5,626.3 L562.7,627.8 L562.8,629.3 L563.0,630.8 L563.2,632.3 L563.4,633.8 L563.6,635.3 L563.8,636.8 L563.9,638.3 L564.1,639.8 L564.3,641.3 L564.5,642.8 L564.6,644.3 L564.8,645.7 L565.0,647.2 L565.2,648.7 L565.3,650.2 L565.5,651.7 L565.7,653.2 L565.9,654.7 L566.0,656.2 L566.2,657.7 L566.4,659.2 L566.6,660.7 L566.8,662.2 L567.0,663.7 L567.2,665.2 L567.3,666.7 L567.5,668.2 L567.7,669.7 L567.9,671.1 L568.1,672.6 L568.3,674.1 L568.5,675.6 L568.7,677.1 L568.9,678.6 L569.1,680.1 L569.3,681.6 L569.5,683.1 L569.7,684.6 L569.9,686.1 L570.1,687.6 L570.3,689.0 L570.5,690.5 L570.7,692.0 L570.9,693.5 L571.2,695.0 L571.4,696.5 L571.6,698.0 L571.8,699.5 L572.1,701.0 L572.3,702.5 L572.6,704.0 L572.8,705.5 L573.1,706.9 L573.4,708.4 L573.7,709.9 L574.0,711.4 L574.3,712.9 L574.6,714.4 L574.9,715.8 L575.2,717.3 L575.6,718.8 L576.0,720.3 L576.3,721.7 L576.7,723.2 L577.1,724.7 L577.5,726.1 L577.9,727.6 L578.3,729.0 L578.7,730.5 L579.2,732.0 L579.7,733.4 L580.1,734.9 L580.7,736.3 L581.2,737.7 L581.8,739.2 L582.5,740.6 L583.2,742.0 L583.9,743.4 L584.8,744.7 L585.7,746.0 L586.6,747.3 L587.6,748.5 L588.7,749.6 L589.9,750.7 L591.1,751.8 L592.3,752.8 L593.6,753.7 L595.0,754.5 L596.4,755.3 L598.0,755.9 L599.6,756.3 L601.1,756.6 L602.7,756.9 L604.3,757.0 L606.0,757.0 L607.6,756.8 L609.2,756.4 L610.8,756.0 L612.3,755.4 L613.8,754.8 L615.2,753.9 L616.5,753.0 L617.8,752.1 L619.0,751.1 L620.1,750.1 L621.3,749.0 L622.4,747.9 L623.5,746.8 L624.5,745.6 L625.5,744.4 L626.4,743.1 L627.3,741.9 L628.1,740.6 L628.9,739.3 L629.7,737.9 L630.4,736.6 L631.2,735.2 L631.8,733.9 L632.5,732.5 L633.1,731.1 L633.8,729.7 L634.3,728.3 L634.9,726.9 L635.5,725.4 L636.0,724.0 L636.5,722.6 L637.0,721.1 L637.5,719.7 L638.0,718.3 L638.4,716.8 L638.9,715.4 L639.3,713.9 L639.7,712.4 L640.1,711.0 L640.5,709.5 L640.9,708.1 L641.3,706.6 L641.6,705.1 L642.0,703.6 L642.3,702.2 L642.7,700.7 L643.0,699.2 L643.3,697.8 L643.6,696.3 L644.0,694.8 L644.3,693.3 L644.6,691.8 L644.8,690.3 L645.1,688.9 L645.4,687.4 L645.7,685.9 L645.9,684.4 L646.2,682.9 L646.5,681.4 L646.7,680.0 L647.0,678.5 L647.2,677.0 L647.5,675.5 L647.7,674.0 L648.0,672.5 L648.2,671.0 L648.4,669.5 L648.6,668.0 L648.8,666.5 L649.0,665.0 L649.2,663.5 L649.4,662.0 L649.6,660.5 L649.8,659.0 L650.0,657.5 L650.1,656.0 L650.3,654.5 L650.4,653.0 L650.6,651.5 L650.7,650.0 L650.9,648.5 L651.0,647.0 L651.2,645.5 L651.3,644.0 L651.4,642.5 L651.5,641.0 L651.7,639.5 L651.8,638.0 L651.9,636.5 L652.0,635.0 L652.1,633.5 L652.2,632.0 L652.4,630.5 L652.5,629.0 L652.6,627.5 L652.7,626.0 L652.8,624.5 L652.9,623.0 L653.0,621.5 L653.2,620.0 L653.3,618.5 L653.4,617.0 L653.5,615.5 L653.6,614.0 L653.8,612.5 L653.9,611.1 L654.0,609.6 L654.2,608.1 L654.3,606.6 L654.4,605.1 L654.6,603.6 L654.7,602.1 L654.9,600.6 L655.0,599.1 L655.1,597.6 L655.3,596.1 L655.4,594.6 L655.6,593.1 L655.7,591.6 L655.9,590.1 L656.0,588.6 L656.2,587.1 L656.4,585.6 L656.5,584.2 L656.7,582.7 L656.9,581.2 L657.0,579.7 L657.2,578.2 L657.4,576.7 L657.6,575.2 L657.8,573.7 L658.0,572.2 L658.2,570.8 L658.4,569.3 L658.6,567.8 L658.9,566.4 L659.2,565.0 L659.6,563.7 L660.0,562.7 L660.0,562.0 L659.9,562.0 L660.0,562.7 L660.3,563.8 L660.7,565.2 L661.0,566.6 L661.3,568.0 L661.5,569.5 L661.8,570.9 L662.0,572.4 L662.2,573.9 L662.4,575.4 L662.5,576.8 L662.7,578.3 L662.9,579.8 L663.0,581.3 L663.1,582.8 L663.3,584.3 L663.4,585.8 L663.5,587.3 L663.7,588.8 L663.9,590.3 L664.0,591.8 L664.2,593.3 L664.3,594.8 L664.5,596.3 L664.6,597.8 L664.7,599.3 L664.9,600.8 L665.0,602.3 L665.1,603.8 L665.3,605.3 L665.4,606.8 L665.5,608.2 L665.6,609.7 L665.8,611.2 L665.9,612.7 L666.0,614.2 L666.2,615.7 L666.3,617.2 L666.5,618.7 L666.6,620.3 L666.8,621.8 L666.9,623.3 L667.1,624.8 L667.2,626.2 L667.4,627.7 L667.6,629.2 L667.7,630.7 L667.9,632.2 L668.1,633.7 L668.3,635.2 L668.4,636.7 L668.6,638.2 L668.8,639.7 L669.0,641.2 L669.2,642.7 L669.4,644.2 L669.6,645.7 L669.8,647.2 L670.0,648.7 L670.2,650.2 L670.4,651.7 L670.6,653.2 L670.8,654.6 L671.0,656.1 L671.2,657.6 L671.4,659.1 L671.6,660.6 L671.8,662.1 L672.0,663.6 L672.3,665.1 L672.5,666.6 L672.7,668.1 L672.9,669.6 L673.2,671.0 L673.4,672.5 L673.6,674.0 L673.9,675.5 L674.1,677.0 L674.4,678.5 L674.7,680.0 L674.9,681.5 L675.2,683.0 L675.5,684.4 L675.8,685.9 L676.1,687.4 L676.5,688.9 L676.8,690.4 L677.2,691.8 L677.5,693.3 L677.9,694.8 L678.3,696.2 L678.7,697.7 L679.0,699.1 L679.4,700.6 L679.8,702.1 L680.2,703.5 L680.6,705.0 L681.0,706.4 L681.3,707.9 L681.7,709.3 L682.2,710.8 L682.6,712.3 L683.0,713.7 L683.5,715.2 L683.9,716.6 L684.4,718.1 L684.9,719.5 L685.4,720.9 L686.0,722.4 L686.5,723.8 L687.1,725.2 L687.6,726.6 L688.3,728.0 L688.9,729.4 L689.6,730.8 L690.3,732.2 L691.1,733.5 L691.9,734.9 L692.8,736.1 L693.8,737.4 L694.8,738.6 L695.8,739.7 L696.8,740.9 L697.8,742.0 L698.8,743.1 L699.8,744.2 L700.8,745.3 L701.9,746.5 L702.9,747.6 L704.0,748.7 L705.1,749.7 L706.2,750.8 L707.4,751.8 L708.6,752.8 L709.8,753.8 L711.0,754.7 L712.2,755.6 L713.5,756.5 L714.8,757.3 L716.2,758.1 L717.5,758.9 L718.9,759.6 L720.4,760.2 L721.8,760.8 L723.2,761.3 L724.7,761.8 L726.1,762.3 L727.6,762.8 L729.1,763.2 L730.5,763.6 L732.0,764.0 L733.5,764.4 L735.0,764.7 L736.4,765.1 L737.9,765.4 L739.4,765.8 L740.9,766.1 L742.4,766.4 L743.9,766.7 L745.4,766.9 L746.9,767.2 L748.4,767.4 L749.9,767.6 L751.4,767.7 L752.9,767.9 L754.4,768.1 L755.9,768.2 L757.4,768.4 L758.9,768.5 L760.4,768.6 L761.9,768.7 L763.5,768.8 L765.0,768.9 L766.5,769.0 L768.0,769.1 L769.5,769.2 L771.0,769.2 L772.5,769.3 L774.0,769.3 L775.5,769.4 L777.0,769.5 L778.5,769.5 L780.1,769.5 L781.6,769.5 L783.1,769.5 L784.6,769.5 L786.1,769.5 L787.7,769.5 L789.2,769.4 L790.7,769.3 L792.2,769.2 L793.7,769.1 L795.2,769.1 L796.7,769.0 L798.2,768.9 L799.7,768.8 L801.2,768.6 L802.7,768.5 L804.2,768.4 L805.8,768.3 L807.3,768.1 L808.8,768.0 L810.3,767.8 L811.8,767.6 L813.3,767.4 L814.8,767.3 L816.3,767.1 L817.8,766.9 L819.3,766.7 L820.8,766.5 L822.3,766.3 L823.8,766.0 L825.2,765.8 L826.7,765.6 L828.2,765.3 L829.7,765.1 L831.2,764.8 L832.7,764.6 L834.2,764.3 L835.7,764.0 L837.2,763.7 L838.6,763.4 L840.1,763.1 L841.6,762.8 L843.1,762.5 L844.6,762.2 L846.0,761.8 L847.5,761.5 L849.0,761.1 L850.4,760.7 L851.9,760.3 L853.4,759.9 L854.8,759.5 L856.3,759.1 L857.7,758.7 L859.2,758.2 L860.6,757.8 L862.1,757.3 L863.5,756.8 L865.0,756.3 L866.4,755.7 L867.8,755.2 L869.2,754.6 L870.6,754.1 L872.0,753.5 L873.4,752.9 L874.8,752.4 L876.2,751.8 L877.6,751.2 L879.0,750.6 L880.4,750.0 L881.8,749.4 L883.1,748.8 L884.5,748.2 L885.9,747.5 L887.3,746.8 L888.6,746.2 L890.0,745.5 L891.3,744.8 L892.7,744.1 L894.0,743.3 L895.3,742.6 L896.7,741.8 L898.0,741.0 L899.3,740.2 L900.6,739.4 L901.8,738.5 L903.1,737.6 L904.3,736.7 L905.5,735.8 L906.7,734.8 L907.9,733.9 L909.0,732.9 L910.2,732.0 L911.4,731.0 L912.6,730.1 L913.7,729.1 L914.9,728.1 L916.0,727.1 L917.1,726.1 L918.3,725.1 L919.4,724.1 L920.5,723.1 L918.5,720.8 L917.3,721.8 L916.2,722.8 L915.1,723.8 L914.0,724.8 L912.8,725.7 L911.7,726.7 L910.6,727.7 L909.4,728.6 L908.3,729.6 L907.1,730.5 L905.9,731.5 L904.8,732.4 L903.6,733.3 L902.4,734.2 L901.2,735.1 L900.0,736.0 L898.8,736.8 L897.6,737.6 L896.4,738.4 L895.1,739.2 L893.8,739.9 L892.5,740.6 L891.2,741.3 L889.9,742.0 L888.6,742.7 L887.2,743.4 L885.9,744.1 L884.6,744.7 L883.2,745.3 L881.9,746.0 L880.5,746.6 L879.1,747.2 L877.8,747.8 L876.4,748.3 L875.0,748.9 L873.6,749.5 L872.2,750.1 L870.8,750.6 L869.5,751.2 L868.1,751.7 L866.7,752.3 L865.3,752.8 L863.9,753.4 L862.5,753.9 L861.1,754.3 L859.7,754.8 L858.3,755.3 L856.8,755.7 L855.4,756.1 L854.0,756.5 L852.5,756.9 L851.1,757.3 L849.7,757.7 L848.2,758.1 L846.8,758.4 L845.3,758.8 L843.9,759.1 L842.4,759.5 L841.0,759.8 L839.5,760.1 L838.0,760.4 L836.6,760.7 L835.1,761.0 L833.6,761.2 L832.1,761.5 L830.7,761.8 L829.2,762.0 L827.7,762.3 L826.2,762.5 L824.8,762.8 L823.3,763.0 L821.8,763.2 L820.3,763.4 L818.8,763.6 L817.4,763.8 L815.9,764.0 L814.4,764.2 L812.9,764.4 L811.4,764.5 L809.9,764.7 L808.4,764.9 L807.0,765.0 L805.5,765.2 L804.0,765.3 L802.5,765.4 L801.0,765.6 L799.5,765.7 L798.0,765.8 L796.5,765.9 L795.0,766.0 L793.5,766.1 L792.0,766.1 L790.5,766.2 L789.0,766.3 L787.5,766.4 L786.1,766.4 L784.6,766.4 L783.1,766.4 L781.6,766.4 L780.1,766.4 L778.6,766.4 L777.1,766.4 L775.6,766.3 L774.1,766.3 L772.6,766.2 L771.1,766.1 L769.6,766.1 L768.1,766.0 L766.6,765.9 L765.1,765.8 L763.7,765.7 L762.2,765.6 L760.7,765.5 L759.2,765.4 L757.7,765.3 L756.2,765.1 L754.7,765.0 L753.2,764.8 L751.8,764.7 L750.3,764.5 L748.8,764.3 L747.3,764.1 L745.9,763.9 L744.4,763.6 L743.0,763.3 L741.5,763.0 L740.0,762.7 L738.6,762.4 L737.1,762.1 L735.7,761.7 L734.2,761.4 L732.8,761.0 L731.4,760.6 L729.9,760.2 L728.5,759.8 L727.1,759.4 L725.7,758.9 L724.3,758.4 L722.9,757.9 L721.6,757.3 L720.3,756.8 L719.0,756.1 L717.7,755.4 L716.5,754.7 L715.2,753.9 L714.0,753.1 L712.8,752.2 L711.7,751.3 L710.5,750.4 L709.4,749.5 L708.3,748.5 L707.2,747.5 L706.2,746.5 L705.2,745.4 L704.1,744.3 L703.1,743.2 L702.1,742.1 L701.1,741.0 L700.1,739.9 L699.1,738.8 L698.1,737.7 L697.1,736.6 L696.2,735.5 L695.3,734.3 L694.5,733.1 L693.7,731.9 L693.0,730.7 L692.4,729.4 L691.7,728.1 L691.1,726.7 L690.5,725.4 L689.9,724.0 L689.4,722.6 L688.9,721.3 L688.3,719.9 L687.8,718.5 L687.3,717.1 L686.9,715.7 L686.4,714.2 L686.0,712.8 L685.6,711.4 L685.1,710.0 L684.7,708.5 L684.3,707.1 L684.0,705.6 L683.6,704.2 L683.2,702.7 L682.8,701.3 L682.4,699.8 L682.0,698.4 L681.7,696.9 L681.3,695.5 L680.9,694.0 L680.5,692.6 L680.2,691.1 L679.8,689.6 L679.5,688.2 L679.2,686.7 L678.8,685.3 L678.5,683.8 L678.3,682.4 L678.0,680.9 L677.7,679.4 L677.4,678.0 L677.2,676.5 L676.9,675.0 L676.7,673.5 L676.4,672.0 L676.2,670.6 L676.0,669.1 L675.8,667.6 L675.5,666.1 L675.3,664.6 L675.1,663.1 L674.9,661.7 L674.7,660.2 L674.5,658.7 L674.3,657.2 L674.0,655.7 L673.8,654.2 L673.6,652.7 L673.4,651.2 L673.2,649.8 L673.0,648.3 L672.8,646.8 L672.6,645.3 L672.5,643.8 L672.3,642.3 L672.1,640.8 L671.9,639.3 L671.7,637.8 L671.5,636.4 L671.3,634.9 L671.2,633.4 L671.0,631.9 L670.8,630.4 L670.7,628.9 L670.5,627.4 L670.3,625.9 L670.2,624.4 L670.0,622.9 L669.8,621.4 L669.7,619.9 L669.5,618.5 L669.4,617.0 L669.3,615.5 L669.1,614.0 L669.0,612.5 L668.9,611.0 L668.7,609.5 L668.6,608.0 L668.5,606.5 L668.3,605.0 L668.2,603.5 L668.1,602.0 L668.0,600.5 L667.8,599.0 L667.7,597.5 L667.5,596.0 L667.4,594.5 L667.2,593.0 L667.1,591.5 L666.9,590.0 L666.8,588.5 L666.6,587.0 L666.5,585.5 L666.4,584.0 L666.2,582.5 L666.1,581.0 L665.9,579.5 L665.8,578.0 L665.6,576.5 L665.5,575.0 L665.3,573.5 L665.1,572.0 L664.8,570.5 L664.6,569.0 L664.3,567.5 L664.0,565.9 L663.7,564.4 L663.3,562.9 L662.6,561.1 L661.3,559.2 L658.9,559.1 L657.4,560.9 L656.7,562.7 L656.2,564.2 L655.9,565.8 L655.6,567.3 L655.3,568.8 L655.1,570.3 L654.9,571.8 L654.7,573.3 L654.6,574.8 L654.4,576.3 L654.2,577.8 L654.0,579.3 L653.8,580.8 L653.6,582.3 L653.4,583.8 L653.3,585.3 L653.1,586.8 L653.0,588.3 L652.8,589.8 L652.6,591.3 L652.5,592.8 L652.3,594.3 L652.2,595.8 L652.1,597.3 L651.9,598.8 L651.8,600.3 L651.6,601.8 L651.5,603.3 L651.3,604.8 L651.2,606.3 L651.1,607.8 L650.9,609.3 L650.8,610.8 L650.7,612.3 L650.5,613.8 L650.4,615.3 L650.3,616.8 L650.2,618.3 L650.1,619.8 L649.9,621.3 L649.8,622.8 L649.7,624.3 L649.6,625.8 L649.5,627.3 L649.4,628.8 L649.3,630.3 L649.2,631.8 L649.0,633.3 L648.9,634.8 L648.8,636.3 L648.7,637.8 L648.6,639.3 L648.4,640.8 L648.3,642.3 L648.2,643.8 L648.1,645.3 L647.9,646.8 L647.8,648.3 L647.7,649.7 L647.5,651.2 L647.4,652.7 L647.2,654.2 L647.0,655.7 L646.9,657.2 L646.7,658.7 L646.5,660.2 L646.4,661.7 L646.2,663.1 L646.0,664.6 L645.8,666.1 L645.6,667.6 L645.3,669.1 L645.1,670.6 L644.9,672.0 L644.7,673.5 L644.4,675.0 L644.2,676.5 L643.9,678.0 L643.7,679.4 L643.4,680.9 L643.2,682.4 L642.9,683.9 L642.6,685.3 L642.3,686.8 L642.1,688.3 L641.8,689.8 L641.5,691.2 L641.2,692.7 L640.9,694.2 L640.6,695.6 L640.3,697.1 L640.0,698.6 L639.7,700.0 L639.3,701.5 L639.0,702.9 L638.6,704.4 L638.3,705.8 L637.9,707.3 L637.5,708.7 L637.1,710.2 L636.7,711.6 L636.3,713.0 L635.9,714.5 L635.5,715.9 L635.0,717.3 L634.6,718.7 L634.1,720.1 L633.6,721.5 L633.1,722.9 L632.6,724.3 L632.0,725.7 L631.5,727.1 L630.9,728.5 L630.3,729.8 L629.7,731.2 L629.1,732.5 L628.4,733.8 L627.7,735.1 L627.0,736.4 L626.3,737.7 L625.5,738.9 L624.7,740.1 L623.9,741.3 L623.0,742.5 L622.1,743.6 L621.2,744.7 L620.2,745.8 L619.2,746.8 L618.1,747.8 L617.0,748.7 L615.9,749.6 L614.7,750.5 L613.6,751.3 L612.4,752.0 L611.1,752.6 L609.8,753.0 L608.4,753.4 L607.1,753.7 L605.8,753.9 L604.4,753.9 L603.1,753.8 L601.7,753.5 L600.3,753.2 L599.0,752.9 L597.7,752.4 L596.5,751.8 L595.3,751.1 L594.1,750.3 L593.0,749.4 L591.9,748.5 L590.9,747.5 L590.0,746.4 L589.1,745.3 L588.2,744.2 L587.4,743.0 L586.6,741.8 L585.9,740.5 L585.3,739.2 L584.7,737.9 L584.1,736.6 L583.6,735.2 L583.1,733.8 L582.6,732.4 L582.2,731.0 L581.7,729.6 L581.3,728.2 L580.9,726.7 L580.5,725.3 L580.1,723.9 L579.7,722.4 L579.3,721.0 L579.0,719.5 L578.6,718.1 L578.3,716.6 L577.9,715.2 L577.6,713.7 L577.3,712.2 L577.0,710.8 L576.7,709.3 L576.4,707.9 L576.2,706.4 L575.9,704.9 L575.6,703.4 L575.4,702.0 L575.1,700.5 L574.9,699.0 L574.7,697.5 L574.4,696.0 L574.2,694.6 L574.0,693.1 L573.8,691.6 L573.6,690.1 L573.4,688.6 L573.2,687.1 L573.0,685.6 L572.8,684.2 L572.6,682.7 L572.4,681.2 L572.1,679.7 L571.9,678.2 L571.7,676.7 L571.6,675.2 L571.4,673.7 L571.2,672.2 L571.0,670.8 L570.8,669.3 L570.6,667.8 L570.4,666.3 L570.2,664.8 L570.0,663.3 L569.9,661.8 L569.7,660.3 L569.5,658.8 L569.3,657.3 L569.1,655.8 L568.9,654.3 L568.8,652.9 L568.6,651.4 L568.4,649.9 L568.2,648.4 L568.1,646.9 L567.9,645.4 L567.7,643.9 L567.5,642.4 L567.4,640.9 L567.2,639.4 L567.0,637.9 L566.8,636.4 L566.7,634.9 L566.5,633.4 L566.3,631.9 L566.1,630.5 L565.9,629.0 L565.8,627.5 L565.6,626.0 L565.4,624.5 L565.3,623.0 L565.1,621.5 L564.9,620.0 L564.7,618.5 L564.5,617.0 L564.2,615.4 L564.0,613.9 L563.6,612.4 L563.2,610.9 L562.8,609.3 L561.9,607.4 L559.9,605.8 L557.9,607.4 L557.1,609.4 L556.7,611.0 L556.3,612.5 L556.0,614.0 L555.7,615.5 L555.4,617.0 L555.2,618.5 L555.0,620.0 L554.8,621.5 L554.6,623.0 L554.4,624.5 L554.2,626.0 L554.0,627.5 L553.8,629.0 L553.6,630.5 L553.4,631.9 L553.2,633.4 L553.0,634.9 L552.8,636.4 L552.6,637.9 L552.5,639.4 L552.3,640.9 L552.1,642.4 L551.9,643.9 L551.7,645.4 L551.5,646.9 L551.4,648.4 L551.2,649.9 L551.0,651.4 L550.8,652.8 L550.6,654.3 L550.4,655.8 L550.2,657.3 L549.9,658.8 L549.7,660.3 L549.5,661.7 L549.2,663.2 L549.0,664.7 L548.7,666.2 L548.5,667.6 L548.2,669.1 L548.0,670.6 L547.7,672.1 L547.4,673.5 L547.1,675.0 L546.9,676.5 L546.6,678.0 L546.3,679.4 L546.0,680.9 L545.7,682.4 L545.4,683.8 L545.1,685.3 L544.8,686.8 L544.4,688.2 L544.1,689.7 L543.8,691.2 L543.4,692.6 L543.1,694.1 L542.8,695.5 L542.4,697.0 L542.0,698.4 L541.7,699.9 L541.3,701.3 L540.9,702.8 L540.5,704.2 L540.1,705.7 L539.7,707.1 L539.3,708.5 L538.9,710.0 L538.5,711.4 L538.0,712.9 L537.6,714.3 L537.2,715.7 L536.8,717.2 L536.3,718.6 L535.9,720.1 L535.5,721.5 L535.0,722.9 L534.6,724.3 L534.1,725.8 L533.6,727.2 L533.2,728.6 L532.7,730.1 L532.3,731.5 L531.8,732.9Z" fill="#333399" stroke="none" clip-path="url(#clipC)"/>
</g>
<g fill="none">
<line x1="61.8" y1="458.5" x2="88.1" y2="458.5" stroke="#3366ff" stroke-width="3" stroke-linecap="round"/>
<line x1="172.8" y1="458.5" x2="198.7" y2="458.5" stroke="#ff0000" stroke-width="3" stroke-linecap="round"/>
<line x1="284.8" y1="458.5" x2="311.1" y2="458.5" stroke="#000000" stroke-width="3" stroke-linecap="round"/>
<line x1="395.7" y1="458.5" x2="421.9" y2="458.5" stroke="#008000" stroke-width="3" stroke-linecap="round"/>
<line x1="61.8" y1="475.5" x2="88.1" y2="475.5" stroke="#800080" stroke-width="3" stroke-linecap="round"/>
<line x1="172.8" y1="475.5" x2="198.7" y2="475.5" stroke="#33cccc" stroke-width="3" stroke-linecap="round"/>
<line x1="284" y1="476" x2="312" y2="476" stroke="#969696" stroke-width="2" shape-rendering="crispEdges"/>
<line x1="136.9" y1="844.5" x2="161.9" y2="844.5" stroke="#800080" stroke-width="3" stroke-linecap="round"/>
<line x1="304" y1="845" x2="331" y2="845" stroke="#969696" stroke-width="2" shape-rendering="crispEdges"/>
<line x1="602.7" y1="846.5" x2="626.7" y2="846.5" stroke="#333399" stroke-width="3" stroke-linecap="round"/>
<line x1="742" y1="847" x2="769" y2="847" stroke="#969696" stroke-width="2" shape-rendering="crispEdges"/>
</g>
<g>
<text x="91.9" y="438" font-size="14" font-weight="700" text-anchor="middle" textLength="14.9" lengthAdjust="spacing">10</text>
<text x="482.8" y="438" font-size="14" font-weight="700" text-anchor="middle" textLength="22.35" lengthAdjust="spacing">100</text>
<text x="38" y="240.8" font-size="16" text-anchor="middle" textLength="69.5" lengthAdjust="spacing" transform="rotate(-90 38 240.8)" stroke="#000" stroke-width="0.45">SPL (dB)</text>
<text x="943.5" y="240.4" font-size="16" text-anchor="middle" textLength="95" lengthAdjust="spacing" transform="rotate(-90 943.5 240.4)" stroke="#000" stroke-width="0.45">Phase (deg.)</text>
<text x="92" y="463" font-size="14" font-weight="700" textLength="61" lengthAdjust="spacingAndGlyphs">Cone SPL</text>
<text x="202.6" y="463" font-size="14" font-weight="700" textLength="57.3" lengthAdjust="spacingAndGlyphs">Vent SPL</text>
<text x="314.4" y="463" font-size="14" font-weight="700" textLength="60.3" lengthAdjust="spacingAndGlyphs">Total SPL</text>
<text x="425.8" y="463" font-size="14" font-weight="700" textLength="56.2" lengthAdjust="spacingAndGlyphs">Raw SPL</text>
<text x="92" y="480" font-size="14" font-weight="700" textLength="65.3" lengthAdjust="spacingAndGlyphs">Circuit T(s)</text>
<text x="202.6" y="480" font-size="14" font-weight="700" textLength="55.6" lengthAdjust="spacingAndGlyphs">Max SPL</text>
<text x="314.4" y="480" font-size="14" font-weight="700" textLength="37.8" lengthAdjust="spacingAndGlyphs">Phase</text>
<text x="249.2" y="523.7" font-size="13" font-weight="700" text-anchor="middle" textLength="218" lengthAdjust="spacing">Electrical Circuit Transfer Function</text>
<text x="59" y="832" font-size="10.67" text-anchor="middle" stroke="#000" stroke-width="0.3">10</text>
<text x="243.8" y="832" font-size="10.67" text-anchor="middle" stroke="#000" stroke-width="0.3">100</text>
<text x="427.5" y="832" font-size="10.67" text-anchor="middle" stroke="#000" stroke-width="0.3">1000</text>
<text x="34.3" y="675.8" font-size="10.67" text-anchor="middle" transform="rotate(-90 34.3 675.8)" stroke="#000" stroke-width="0.3">dB</text>
<text x="467" y="674" font-size="10.67" text-anchor="middle" transform="rotate(-90 467 674)" stroke="#000" stroke-width="0.3">Phase</text>
<text x="165.1" y="848" font-size="9.33" textLength="86.4" lengthAdjust="spacing" stroke="#000" stroke-width="0.3">Amplitude Response</text>
<text x="332.7" y="848" font-size="9.33" stroke="#000" stroke-width="0.3">Phase</text>
<text x="724.2" y="519.8" font-size="13" font-weight="700" text-anchor="middle" textLength="118.8" lengthAdjust="spacing">System Impedance</text>
<text x="533.7" y="833.4" font-size="10.67" text-anchor="middle" stroke="#000" stroke-width="0.3">10</text>
<text x="724.8" y="833.4" font-size="10.67" text-anchor="middle" stroke="#000" stroke-width="0.3">100</text>
<text x="915" y="833.4" font-size="10.67" text-anchor="middle" stroke="#000" stroke-width="0.3">1000</text>
<text x="507" y="678.5" font-size="12" text-anchor="middle" transform="rotate(-90 507 678.5)" stroke="#000" stroke-width="0.3">Ohms</text>
<text x="946.2" y="676" font-size="11" text-anchor="middle" transform="rotate(-90 946.2 676)" stroke="#000" stroke-width="0.3">Phase</text>
<text x="629.8" y="850" font-size="9.33" textLength="87.7" lengthAdjust="spacing" stroke="#000" stroke-width="0.3">Impedance Amplitude</text>
<text x="770.6" y="850" font-size="9.33" textLength="73.5" lengthAdjust="spacing" stroke="#000" stroke-width="0.3">Impedance Phase</text>
<text x="82" y="418.2" font-size="14" font-weight="700" text-anchor="end" textLength="14.9" lengthAdjust="spacing">50</text>
<text x="82" y="396.2" font-size="14" font-weight="700" text-anchor="end" textLength="14.9" lengthAdjust="spacing">55</text>
<text x="82" y="374.2" font-size="14" font-weight="700" text-anchor="end" textLength="14.9" lengthAdjust="spacing">60</text>
<text x="82" y="352.2" font-size="14" font-weight="700" text-anchor="end" textLength="14.9" lengthAdjust="spacing">65</text>
<text x="82" y="331.2" font-size="14" font-weight="700" text-anchor="end" textLength="14.9" lengthAdjust="spacing">70</text>
<text x="82" y="309.2" font-size="14" font-weight="700" text-anchor="end" textLength="14.9" lengthAdjust="spacing">75</text>
<text x="82" y="287.2" font-size="14" font-weight="700" text-anchor="end" textLength="14.9" lengthAdjust="spacing">80</text>
<text x="82" y="265.2" font-size="14" font-weight="700" text-anchor="end" textLength="14.9" lengthAdjust="spacing">85</text>
<text x="82" y="243.2" font-size="14" font-weight="700" text-anchor="end" textLength="14.9" lengthAdjust="spacing">90</text>
<text x="82" y="221.2" font-size="14" font-weight="700" text-anchor="end" textLength="14.9" lengthAdjust="spacing">95</text>
<text x="82" y="199.2" font-size="14" font-weight="700" text-anchor="end" textLength="22.35" lengthAdjust="spacing">100</text>
<text x="82" y="177.2" font-size="14" font-weight="700" text-anchor="end" textLength="22.35" lengthAdjust="spacing">105</text>
<text x="82" y="156.2" font-size="14" font-weight="700" text-anchor="end" textLength="22.35" lengthAdjust="spacing">110</text>
<text x="82" y="134.2" font-size="14" font-weight="700" text-anchor="end" textLength="22.35" lengthAdjust="spacing">115</text>
<text x="82" y="112.2" font-size="14" font-weight="700" text-anchor="end" textLength="22.35" lengthAdjust="spacing">120</text>
<text x="82" y="90.2" font-size="14" font-weight="700" text-anchor="end" textLength="22.35" lengthAdjust="spacing">125</text>
<text x="82" y="68.2" font-size="14" font-weight="700" text-anchor="end" textLength="22.35" lengthAdjust="spacing">130</text>
<text x="883.5" y="418.2" font-size="14" font-weight="700" textLength="26.85" lengthAdjust="spacing">-180</text>
<text x="883.5" y="363.2" font-size="14" font-weight="700" textLength="26.85" lengthAdjust="spacing">-120</text>
<text x="883.5" y="307.2" font-size="14" font-weight="700" textLength="19.4" lengthAdjust="spacing">-60</text>
<text x="883.5" y="252.2" font-size="14" font-weight="700" textLength="7.45" lengthAdjust="spacing">0</text>
<text x="883.5" y="197.2" font-size="14" font-weight="700" textLength="14.9" lengthAdjust="spacing">60</text>
<text x="883.5" y="142.2" font-size="14" font-weight="700" textLength="22.35" lengthAdjust="spacing">120</text>
<text x="883.5" y="86.2" font-size="14" font-weight="700" textLength="22.35" lengthAdjust="spacing">180</text>
<text x="50.5" y="816.3" font-size="10.67" text-anchor="end" stroke="#000" stroke-width="0.3">-30</text>
<text x="50.5" y="783.3" font-size="10.67" text-anchor="end" stroke="#000" stroke-width="0.3">-24</text>
<text x="50.5" y="750.3" font-size="10.67" text-anchor="end" stroke="#000" stroke-width="0.3">-18</text>
<text x="50.5" y="717.3" font-size="10.67" text-anchor="end" stroke="#000" stroke-width="0.3">-12</text>
<text x="50.5" y="684.3" font-size="10.67" text-anchor="end" stroke="#000" stroke-width="0.3">-6</text>
<text x="50.5" y="650.3" font-size="10.67" text-anchor="end" stroke="#000" stroke-width="0.3">0</text>
<text x="50.5" y="617.3" font-size="10.67" text-anchor="end" stroke="#000" stroke-width="0.3">6</text>
<text x="50.5" y="584.3" font-size="10.67" text-anchor="end" stroke="#000" stroke-width="0.3">12</text>
<text x="50.5" y="551.3" font-size="10.67" text-anchor="end" stroke="#000" stroke-width="0.3">18</text>
<text x="435.6" y="816.3" font-size="10.67" textLength="21.35" lengthAdjust="spacing" stroke="#000" stroke-width="0.3">-180</text>
<text x="435.6" y="772.3" font-size="10.67" textLength="21.35" lengthAdjust="spacing" stroke="#000" stroke-width="0.3">-120</text>
<text x="435.6" y="729.3" font-size="10.67" textLength="15.4" lengthAdjust="spacing" stroke="#000" stroke-width="0.3">-60</text>
<text x="435.6" y="685.3" font-size="10.67" textLength="5.95" lengthAdjust="spacing" stroke="#000" stroke-width="0.3">0</text>
<text x="435.6" y="642.3" font-size="10.67" textLength="11.9" lengthAdjust="spacing" stroke="#000" stroke-width="0.3">60</text>
<text x="435.6" y="598.3" font-size="10.67" textLength="17.85" lengthAdjust="spacing" stroke="#000" stroke-width="0.3">120</text>
<text x="435.6" y="555.3" font-size="10.67" textLength="17.85" lengthAdjust="spacing" stroke="#000" stroke-width="0.3">180</text>
<text x="525" y="818.3" font-size="10.67" text-anchor="end" stroke="#000" stroke-width="0.3">0</text>
<text x="525" y="679.3" font-size="10.67" text-anchor="end" stroke="#000" stroke-width="0.3">10</text>
<text x="525" y="540.3" font-size="10.67" text-anchor="end" stroke="#000" stroke-width="0.3">20</text>
<text x="923.5" y="818.3" font-size="10.67" textLength="21.35" lengthAdjust="spacing" stroke="#000" stroke-width="0.3">-180</text>
<text x="923.5" y="772.3" font-size="10.67" textLength="21.35" lengthAdjust="spacing" stroke="#000" stroke-width="0.3">-120</text>
<text x="923.5" y="725.3" font-size="10.67" textLength="15.4" lengthAdjust="spacing" stroke="#000" stroke-width="0.3">-60</text>
<text x="923.5" y="679.3" font-size="10.67" textLength="5.95" lengthAdjust="spacing" stroke="#000" stroke-width="0.3">0</text>
<text x="923.5" y="633.3" font-size="10.67" textLength="11.9" lengthAdjust="spacing" stroke="#000" stroke-width="0.3">60</text>
<text x="923.5" y="586.3" font-size="10.67" textLength="17.85" lengthAdjust="spacing" stroke="#000" stroke-width="0.3">120</text>
<text x="923.5" y="540.3" font-size="10.67" textLength="17.85" lengthAdjust="spacing" stroke="#000" stroke-width="0.3">180</text>
<text y="33.7" font-size="16" stroke="#000" stroke-width="0.45"><tspan x="185.4" textLength="7.4" lengthAdjust="spacing">1</tspan> <tspan x="198.1" textLength="9.2" lengthAdjust="spacing">x</tspan> <tspan x="211.1" textLength="62.4" lengthAdjust="spacing">Creative</tspan> <tspan x="278.3" textLength="50" lengthAdjust="spacing">Sound</tspan> <tspan x="332.7" textLength="45.1" lengthAdjust="spacing">SX10,</tspan> <tspan x="384.8" textLength="53.8" lengthAdjust="spacing">Vented</tspan> <tspan x="443" textLength="34.5" lengthAdjust="spacing">Box,</tspan> <tspan x="481.8" textLength="30.1" lengthAdjust="spacing">Vb=</tspan> <tspan x="515.3" textLength="18" lengthAdjust="spacing">60</tspan> <tspan x="537.7" textLength="8.1" lengthAdjust="spacing">l,</tspan> <tspan x="554.2" textLength="19.6" lengthAdjust="spacing">Fb</tspan> <tspan x="576.7" textLength="10.6" lengthAdjust="spacing">=</tspan> <tspan x="590.5" textLength="19.1" lengthAdjust="spacing">23</tspan> <tspan x="613" textLength="24.5" lengthAdjust="spacing">Hz,</tspan> <tspan x="645.9" textLength="16.6" lengthAdjust="spacing">At</tspan> <tspan x="665.8" textLength="27.6" lengthAdjust="spacing">200</tspan> <tspan x="696.7" textLength="42.5" lengthAdjust="spacing">Watts</tspan></text>
</g>
</svg>
<div class="buttons">
<button type="button" style="left:778px;top:8px;width:88px;height:25px"><span style="margin-top:-8.4px;transform:scaleX(0.9484)">Save Graph</span></button>
<button type="button" style="left:866px;top:8px;width:89px;height:25px"><span style="margin-top:-8.4px;transform:scaleX(0.9324)">Print Graph</span></button>
<button type="button" style="left:517px;top:419px;width:134px;height:34px"><span style="transform:scaleX(0.9251)">Cone SPL: <b>ON</b></span></button>
<button type="button" style="left:651px;top:419px;width:134px;height:34px"><span style="transform:scaleX(0.9425)">Raw SPL: OFF</span></button>
<button type="button" style="left:786px;top:419px;width:135px;height:34px"><span style="transform:scaleX(0.9476)">Maximum SPL: OFF</span></button>
<button type="button" style="left:517px;top:454px;width:134px;height:34px"><span style="transform:scaleX(0.9365)">Vent SPL: <b>ON</b></span></button>
<button type="button" style="left:651px;top:454px;width:134px;height:34px"><span style="transform:scaleX(0.9331)">Circuit Shape: OFF</span></button>
<button type="button" style="left:786px;top:454px;width:135px;height:34px"><span style="transform:scaleX(0.9210)">System Phase: OFF</span></button>
<button type="button" style="left:18px;top:502px;width:88px;height:25px"><span style="margin-top:-8.4px;transform:scaleX(0.9497)">Save Graph</span></button>
<button type="button" style="left:388px;top:502px;width:88px;height:25px"><span style="margin-top:-8.4px;transform:scaleX(0.9324)">Print Graph</span></button>
<button type="button" style="left:489px;top:502px;width:88px;height:25px"><span style="margin-top:-8.4px;transform:scaleX(0.9510)">Save Graph</span></button>
<button type="button" style="left:869px;top:502px;width:88px;height:25px"><span style="margin-top:-8.4px;transform:scaleX(0.9363)">Print Graph</span></button>
</div>
</body>
</html>
